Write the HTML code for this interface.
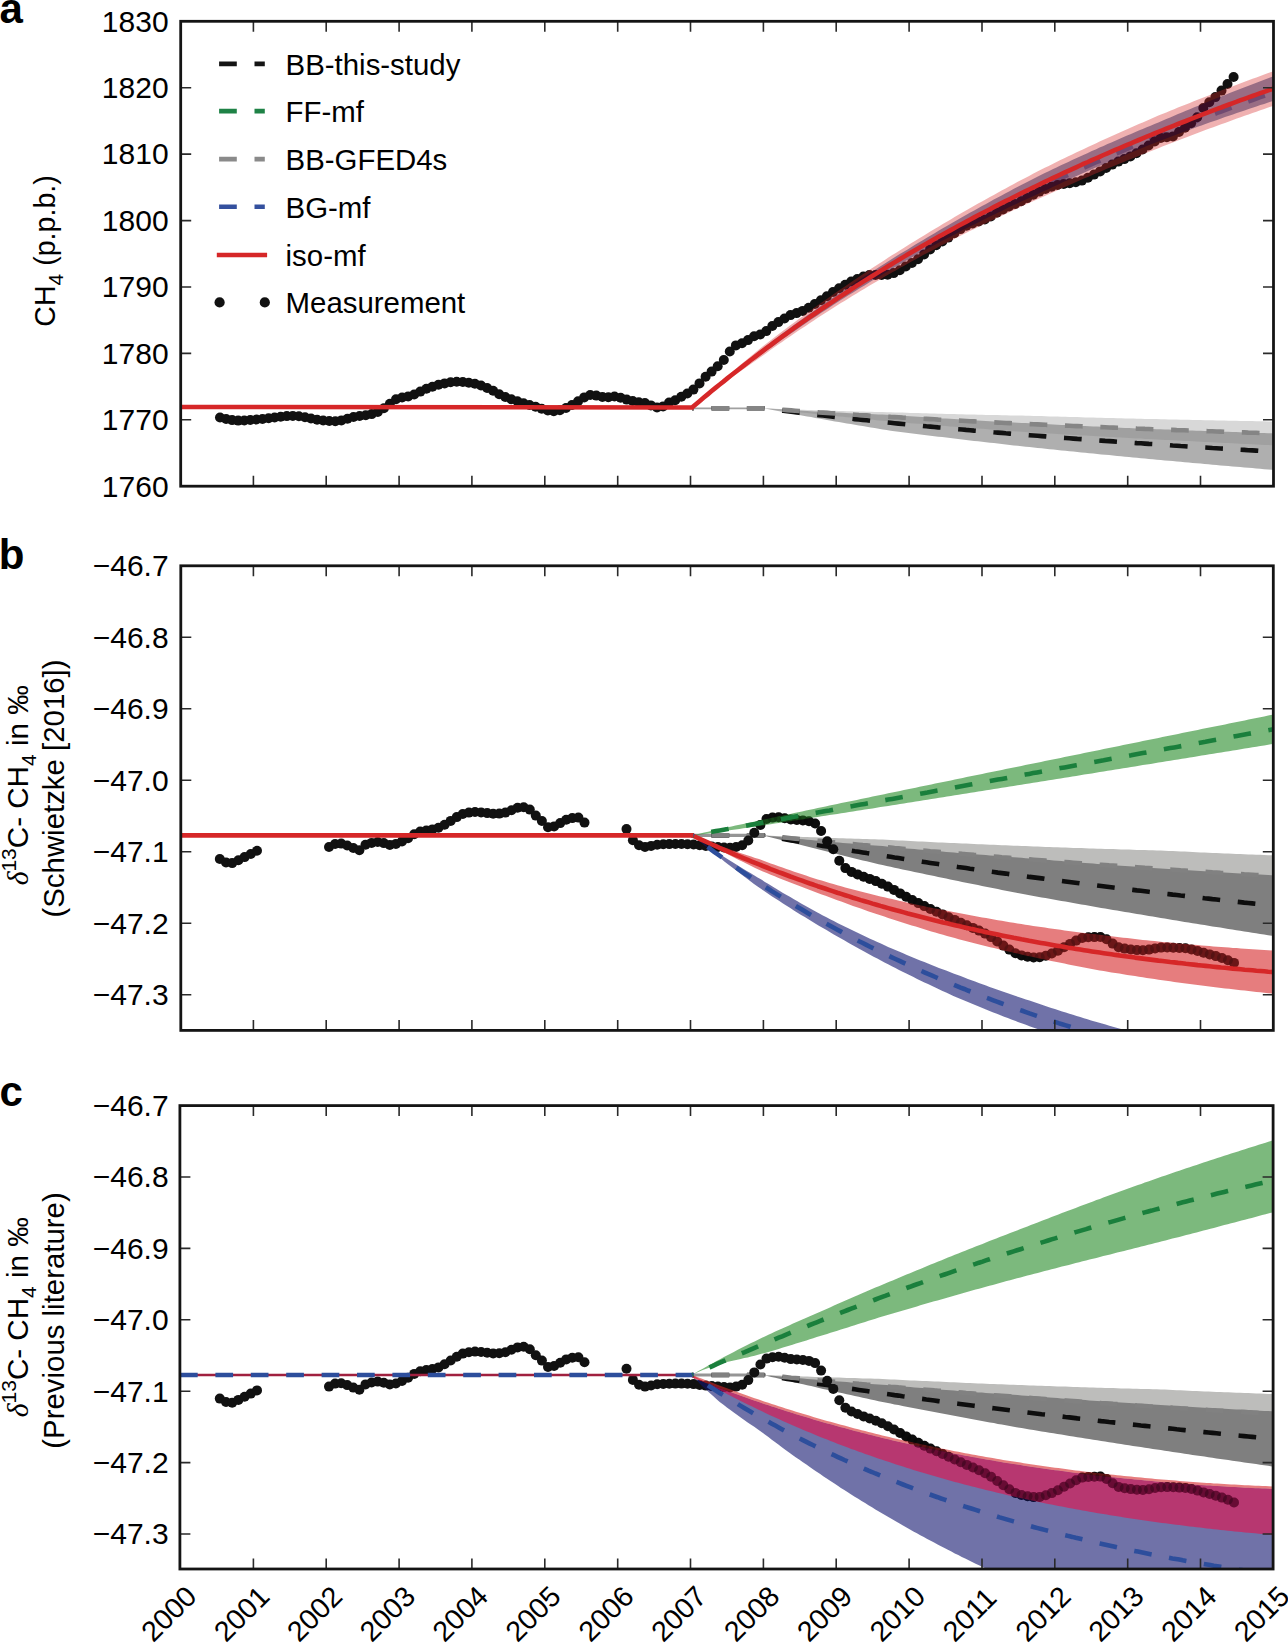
<!DOCTYPE html><html><head><meta charset="utf-8"><style>html,body{margin:0;padding:0;background:#fff;overflow:hidden}svg{display:block}text{font-family:"Liberation Sans",sans-serif;fill:#000}</style></head><body><svg width="1288" height="1647" viewBox="0 0 1288 1647"><defs><clipPath id="clipa"><rect x="180.7" y="21.3" width="1092.8" height="464.9"/></clipPath><clipPath id="clipb"><rect x="180.8" y="565.8" width="1092.5" height="464.6"/></clipPath><clipPath id="clipc"><rect x="179.9" y="1105.6" width="1093.2" height="463.4"/></clipPath></defs><g clip-path="url(#clipa)"><path d="M763.4,408.3 L767.4,408.6 L771.3,408.8 L775.3,409.1 L779.3,409.3 L783.3,409.6 L787.2,409.8 L791.2,410.1 L795.2,410.3 L799.2,410.5 L803.1,410.7 L807.1,411 L811.1,411.2 L815.1,411.4 L819,411.6 L823,411.8 L827,412 L831,412.2 L834.9,412.4 L838.9,412.6 L842.9,412.8 L846.8,413 L850.8,413.2 L854.8,413.4 L858.8,413.5 L862.7,413.7 L866.7,413.9 L870.7,414.1 L874.7,414.2 L878.6,414.4 L882.6,414.5 L886.6,414.7 L890.6,414.9 L894.5,415.2 L898.5,415.4 L902.5,415.7 L906.5,416 L910.4,416.3 L914.4,416.5 L918.4,416.8 L922.3,417.1 L926.3,417.3 L930.3,417.6 L934.3,417.8 L938.2,418.1 L942.2,418.4 L946.2,418.6 L950.2,418.8 L954.1,419.1 L958.1,419.3 L962.1,419.6 L966.1,419.8 L970,420 L974,420.3 L978,420.5 L982,420.7 L985.9,421 L989.9,421.2 L993.9,421.4 L997.8,421.6 L1001.8,421.8 L1005.8,422.1 L1009.8,422.3 L1013.7,422.5 L1017.7,422.7 L1021.7,422.9 L1025.7,423.1 L1029.6,423.3 L1033.6,423.5 L1037.6,423.7 L1041.6,423.9 L1045.5,424.1 L1049.5,424.3 L1053.5,424.5 L1057.4,424.7 L1061.4,424.9 L1065.4,425.1 L1069.4,425.3 L1073.3,425.5 L1077.3,425.7 L1081.3,425.9 L1085.3,426.1 L1089.2,426.3 L1093.2,426.4 L1097.2,426.6 L1101.2,426.8 L1105.1,427 L1109.1,427.2 L1113.1,427.3 L1117.1,427.5 L1121,427.7 L1125,427.9 L1129,428 L1132.9,428.2 L1136.9,428.4 L1140.9,428.5 L1144.9,428.7 L1148.8,428.9 L1152.8,429 L1156.8,429.2 L1160.8,429.3 L1164.7,429.5 L1168.7,429.6 L1172.7,429.8 L1176.7,430 L1180.6,430.1 L1184.6,430.3 L1188.6,430.4 L1192.6,430.6 L1196.5,430.7 L1200.5,430.8 L1204.5,431 L1208.4,431.1 L1212.4,431.3 L1216.4,431.4 L1220.4,431.6 L1224.3,431.7 L1228.3,431.8 L1232.3,432 L1236.3,432.1 L1240.2,432.2 L1244.2,432.4 L1248.2,432.5 L1252.2,432.6 L1256.1,432.8 L1260.1,432.9 L1264.1,433 L1268.1,433.2 L1272,433.3 L1276,433.5 L1276,470.1 L1272,469.8 L1268.1,469.5 L1264.1,469.2 L1260.1,468.8 L1256.1,468.5 L1252.2,468.1 L1248.2,467.8 L1244.2,467.5 L1240.2,467.1 L1236.3,466.8 L1232.3,466.4 L1228.3,466.1 L1224.3,465.7 L1220.4,465.4 L1216.4,465 L1212.4,464.7 L1208.4,464.3 L1204.5,464 L1200.5,463.6 L1196.5,463.3 L1192.6,462.9 L1188.6,462.6 L1184.6,462.2 L1180.6,461.8 L1176.7,461.5 L1172.7,461.1 L1168.7,460.8 L1164.7,460.4 L1160.8,460 L1156.8,459.7 L1152.8,459.3 L1148.8,458.9 L1144.9,458.5 L1140.9,458.2 L1136.9,457.8 L1132.9,457.4 L1129,457 L1125,456.7 L1121,456.3 L1117.1,455.9 L1113.1,455.5 L1109.1,455.1 L1105.1,454.7 L1101.2,454.4 L1097.2,454 L1093.2,453.6 L1089.2,453.2 L1085.3,452.8 L1081.3,452.4 L1077.3,452 L1073.3,451.6 L1069.4,451.2 L1065.4,450.8 L1061.4,450.4 L1057.4,450 L1053.5,449.6 L1049.5,449.2 L1045.5,448.8 L1041.6,448.3 L1037.6,447.9 L1033.6,447.5 L1029.6,447.1 L1025.7,446.7 L1021.7,446.2 L1017.7,445.8 L1013.7,445.4 L1009.8,444.9 L1005.8,444.5 L1001.8,444 L997.8,443.6 L993.9,443.1 L989.9,442.7 L985.9,442.2 L982,441.8 L978,441.3 L974,440.9 L970,440.4 L966.1,440 L962.1,439.5 L958.1,439 L954.1,438.6 L950.2,438.1 L946.2,437.6 L942.2,437.1 L938.2,436.7 L934.3,436.2 L930.3,435.7 L926.3,435.2 L922.3,434.7 L918.4,434.2 L914.4,433.7 L910.4,433.2 L906.5,432.7 L902.5,432.2 L898.5,431.7 L894.5,431.2 L890.6,430.7 L886.6,430.1 L882.6,429.4 L878.6,428.8 L874.7,428.1 L870.7,427.4 L866.7,426.8 L862.7,426.1 L858.8,425.4 L854.8,424.8 L850.8,424.1 L846.8,423.4 L842.9,422.7 L838.9,422 L834.9,421.4 L831,420.7 L827,420 L823,419.3 L819,418.6 L815.1,417.9 L811.1,417.1 L807.1,416.4 L803.1,415.7 L799.2,415 L795.2,414.3 L791.2,413.5 L787.2,412.8 L783.3,412.1 L779.3,411.3 L775.3,410.6 L771.3,409.8 L767.4,409.1 L763.4,408.3Z" fill="#000" fill-opacity="0.314"/><path d="M763.4,408.3 L767.4,408.5 L771.3,408.6 L775.3,408.8 L779.3,408.9 L783.3,409.1 L787.2,409.2 L791.2,409.4 L795.2,409.5 L799.2,409.7 L803.1,409.8 L807.1,409.9 L811.1,410.1 L815.1,410.2 L819,410.3 L823,410.5 L827,410.6 L831,410.7 L834.9,410.8 L838.9,410.9 L842.9,411.1 L846.8,411.2 L850.8,411.3 L854.8,411.4 L858.8,411.5 L862.7,411.6 L866.7,411.7 L870.7,411.8 L874.7,411.9 L878.6,412 L882.6,412.1 L886.6,412.2 L890.6,412.3 L894.5,412.4 L898.5,412.5 L902.5,412.6 L906.5,412.8 L910.4,412.9 L914.4,413 L918.4,413.1 L922.3,413.2 L926.3,413.3 L930.3,413.5 L934.3,413.6 L938.2,413.7 L942.2,413.8 L946.2,413.9 L950.2,414 L954.1,414.1 L958.1,414.2 L962.1,414.3 L966.1,414.4 L970,414.5 L974,414.6 L978,414.7 L982,414.8 L985.9,414.9 L989.9,414.9 L993.9,415 L997.8,415.1 L1001.8,415.2 L1005.8,415.3 L1009.8,415.4 L1013.7,415.5 L1017.7,415.5 L1021.7,415.6 L1025.7,415.7 L1029.6,415.8 L1033.6,415.9 L1037.6,416 L1041.6,416.1 L1045.5,416.2 L1049.5,416.4 L1053.5,416.5 L1057.4,416.6 L1061.4,416.7 L1065.4,416.8 L1069.4,416.9 L1073.3,417 L1077.3,417.1 L1081.3,417.3 L1085.3,417.4 L1089.2,417.5 L1093.2,417.6 L1097.2,417.7 L1101.2,417.8 L1105.1,417.9 L1109.1,418 L1113.1,418.1 L1117.1,418.2 L1121,418.3 L1125,418.4 L1129,418.5 L1132.9,418.6 L1136.9,418.7 L1140.9,418.8 L1144.9,418.9 L1148.8,419 L1152.8,419 L1156.8,419.1 L1160.8,419.2 L1164.7,419.3 L1168.7,419.4 L1172.7,419.5 L1176.7,419.6 L1180.6,419.7 L1184.6,419.8 L1188.6,419.8 L1192.6,419.9 L1196.5,420 L1200.5,420.1 L1204.5,420.2 L1208.4,420.3 L1212.4,420.3 L1216.4,420.4 L1220.4,420.5 L1224.3,420.6 L1228.3,420.7 L1232.3,420.7 L1236.3,420.8 L1240.2,420.9 L1244.2,421 L1248.2,421 L1252.2,421.1 L1256.1,421.2 L1260.1,421.3 L1264.1,421.3 L1268.1,421.4 L1272,421.5 L1276,421.6 L1276,445.4 L1272,445.3 L1268.1,445.1 L1264.1,444.9 L1260.1,444.7 L1256.1,444.5 L1252.2,444.3 L1248.2,444.1 L1244.2,443.9 L1240.2,443.7 L1236.3,443.5 L1232.3,443.3 L1228.3,443.1 L1224.3,442.9 L1220.4,442.7 L1216.4,442.5 L1212.4,442.3 L1208.4,442.1 L1204.5,441.9 L1200.5,441.7 L1196.5,441.5 L1192.6,441.3 L1188.6,441.1 L1184.6,440.9 L1180.6,440.7 L1176.7,440.5 L1172.7,440.3 L1168.7,440.1 L1164.7,439.9 L1160.8,439.7 L1156.8,439.5 L1152.8,439.3 L1148.8,439.1 L1144.9,438.9 L1140.9,438.6 L1136.9,438.4 L1132.9,438.2 L1129,438 L1125,437.8 L1121,437.6 L1117.1,437.4 L1113.1,437.1 L1109.1,436.9 L1105.1,436.7 L1101.2,436.5 L1097.2,436.3 L1093.2,436 L1089.2,435.8 L1085.3,435.6 L1081.3,435.4 L1077.3,435.1 L1073.3,434.9 L1069.4,434.7 L1065.4,434.5 L1061.4,434.2 L1057.4,434 L1053.5,433.8 L1049.5,433.5 L1045.5,433.3 L1041.6,433.1 L1037.6,432.8 L1033.6,432.6 L1029.6,432.3 L1025.7,432.1 L1021.7,431.8 L1017.7,431.5 L1013.7,431.2 L1009.8,430.9 L1005.8,430.6 L1001.8,430.3 L997.8,430 L993.9,429.7 L989.9,429.4 L985.9,429.1 L982,428.8 L978,428.5 L974,428.2 L970,427.9 L966.1,427.6 L962.1,427.3 L958.1,427 L954.1,426.7 L950.2,426.4 L946.2,426.1 L942.2,425.7 L938.2,425.4 L934.3,425.1 L930.3,424.8 L926.3,424.5 L922.3,424.1 L918.4,423.8 L914.4,423.5 L910.4,423.2 L906.5,422.8 L902.5,422.5 L898.5,422.2 L894.5,421.8 L890.6,421.5 L886.6,421.1 L882.6,420.7 L878.6,420.4 L874.7,420 L870.7,419.6 L866.7,419.2 L862.7,418.8 L858.8,418.4 L854.8,418 L850.8,417.6 L846.8,417.2 L842.9,416.8 L838.9,416.4 L834.9,416 L831,415.6 L827,415.2 L823,414.8 L819,414.4 L815.1,414 L811.1,413.5 L807.1,413.1 L803.1,412.7 L799.2,412.3 L795.2,411.8 L791.2,411.4 L787.2,411 L783.3,410.5 L779.3,410.1 L775.3,409.6 L771.3,409.2 L767.4,408.8 L763.4,408.3Z" fill="#808080" fill-opacity="0.31"/><path d="M692,408.3H764" stroke="#a0a0a0" stroke-width="1.8"/><path d="M692,408.3 L763.4,408.3 L767.4,408.8 L771.3,409.3 L775.3,409.8 L779.3,410.3 L783.3,410.8 L787.2,411.3 L791.2,411.8 L795.2,412.3 L799.2,412.8 L803.1,413.2 L807.1,413.7 L811.1,414.2 L815.1,414.6 L819,415.1 L823,415.5 L827,416 L831,416.4 L834.9,416.9 L838.9,417.3 L842.9,417.8 L846.8,418.2 L850.8,418.6 L854.8,419.1 L858.8,419.5 L862.7,419.9 L866.7,420.3 L870.7,420.8 L874.7,421.2 L878.6,421.6 L882.6,422 L886.6,422.4 L890.6,422.8 L894.5,423.2 L898.5,423.6 L902.5,424 L906.5,424.4 L910.4,424.7 L914.4,425.1 L918.4,425.5 L922.3,425.9 L926.3,426.3 L930.3,426.6 L934.3,427 L938.2,427.4 L942.2,427.7 L946.2,428.1 L950.2,428.5 L954.1,428.8 L958.1,429.2 L962.1,429.5 L966.1,429.9 L970,430.2 L974,430.6 L978,430.9 L982,431.3 L985.9,431.6 L989.9,431.9 L993.9,432.3 L997.8,432.6 L1001.8,432.9 L1005.8,433.3 L1009.8,433.6 L1013.7,433.9 L1017.7,434.2 L1021.7,434.6 L1025.7,434.9 L1029.6,435.2 L1033.6,435.5 L1037.6,435.8 L1041.6,436.1 L1045.5,436.4 L1049.5,436.8 L1053.5,437.1 L1057.4,437.4 L1061.4,437.7 L1065.4,438 L1069.4,438.3 L1073.3,438.6 L1077.3,438.9 L1081.3,439.1 L1085.3,439.4 L1089.2,439.7 L1093.2,440 L1097.2,440.3 L1101.2,440.6 L1105.1,440.9 L1109.1,441.1 L1113.1,441.4 L1117.1,441.7 L1121,442 L1125,442.3 L1129,442.5 L1132.9,442.8 L1136.9,443.1 L1140.9,443.3 L1144.9,443.6 L1148.8,443.9 L1152.8,444.1 L1156.8,444.4 L1160.8,444.7 L1164.7,444.9 L1168.7,445.2 L1172.7,445.5 L1176.7,445.7 L1180.6,446 L1184.6,446.2 L1188.6,446.5 L1192.6,446.7 L1196.5,447 L1200.5,447.2 L1204.5,447.5 L1208.4,447.7 L1212.4,448 L1216.4,448.2 L1220.4,448.5 L1224.3,448.7 L1228.3,449 L1232.3,449.2 L1236.3,449.4 L1240.2,449.7 L1244.2,449.9 L1248.2,450.2 L1252.2,450.4 L1256.1,450.6 L1260.1,450.9 L1264.1,451.1 L1268.1,451.3 L1272,451.6 L1276,451.8" stroke="#111" stroke-width="4.6" fill="none" stroke-dasharray="17.7 17.7" stroke-dashoffset="511.5" /><path d="M692,408.3 L763.4,408.3 L767.4,408.6 L771.3,408.9 L775.3,409.2 L779.3,409.5 L783.3,409.8 L787.2,410.1 L791.2,410.4 L795.2,410.7 L799.2,411 L803.1,411.2 L807.1,411.5 L811.1,411.8 L815.1,412.1 L819,412.4 L823,412.6 L827,412.9 L831,413.2 L834.9,413.4 L838.9,413.7 L842.9,413.9 L846.8,414.2 L850.8,414.4 L854.8,414.7 L858.8,415 L862.7,415.2 L866.7,415.4 L870.7,415.7 L874.7,415.9 L878.6,416.2 L882.6,416.4 L886.6,416.6 L890.6,416.9 L894.5,417.1 L898.5,417.3 L902.5,417.6 L906.5,417.8 L910.4,418 L914.4,418.2 L918.4,418.5 L922.3,418.7 L926.3,418.9 L930.3,419.1 L934.3,419.3 L938.2,419.6 L942.2,419.8 L946.2,420 L950.2,420.2 L954.1,420.4 L958.1,420.6 L962.1,420.8 L966.1,421 L970,421.2 L974,421.4 L978,421.6 L982,421.8 L985.9,422 L989.9,422.2 L993.9,422.4 L997.8,422.6 L1001.8,422.8 L1005.8,423 L1009.8,423.1 L1013.7,423.3 L1017.7,423.5 L1021.7,423.7 L1025.7,423.9 L1029.6,424.1 L1033.6,424.2 L1037.6,424.4 L1041.6,424.6 L1045.5,424.8 L1049.5,424.9 L1053.5,425.1 L1057.4,425.3 L1061.4,425.5 L1065.4,425.6 L1069.4,425.8 L1073.3,426 L1077.3,426.1 L1081.3,426.3 L1085.3,426.5 L1089.2,426.6 L1093.2,426.8 L1097.2,427 L1101.2,427.1 L1105.1,427.3 L1109.1,427.5 L1113.1,427.6 L1117.1,427.8 L1121,427.9 L1125,428.1 L1129,428.2 L1132.9,428.4 L1136.9,428.6 L1140.9,428.7 L1144.9,428.9 L1148.8,429 L1152.8,429.2 L1156.8,429.3 L1160.8,429.5 L1164.7,429.6 L1168.7,429.8 L1172.7,429.9 L1176.7,430.1 L1180.6,430.2 L1184.6,430.3 L1188.6,430.5 L1192.6,430.6 L1196.5,430.8 L1200.5,430.9 L1204.5,431.1 L1208.4,431.2 L1212.4,431.3 L1216.4,431.5 L1220.4,431.6 L1224.3,431.8 L1228.3,431.9 L1232.3,432 L1236.3,432.2 L1240.2,432.3 L1244.2,432.4 L1248.2,432.6 L1252.2,432.7 L1256.1,432.8 L1260.1,433 L1264.1,433.1 L1268.1,433.2 L1272,433.4 L1276,433.5" stroke="#858585" stroke-width="4.6" fill="none" stroke-dasharray="17.7 17.7" stroke-dashoffset="511.5" /><path d="M942.8,238.4 L946.8,236.2 L950.7,234.1 L954.6,231.9 L958.5,229.8 L962.4,227.7 L966.4,225.6 L970.3,223.5 L974.2,221.4 L978.1,219.3 L982,217.2 L986,215.2 L989.9,213.2 L993.8,211.1 L997.7,209.1 L1001.6,207.1 L1005.6,205.1 L1009.5,203.2 L1013.4,201.2 L1017.3,199.3 L1021.2,197.3 L1025.2,195.4 L1029.1,193.5 L1033,191.6 L1036.9,189.7 L1040.8,187.8 L1044.8,185.9 L1048.7,184 L1052.6,182.2 L1056.5,180.4 L1060.4,178.5 L1064.3,176.7 L1068.3,174.9 L1072.2,173.1 L1076.1,171.3 L1080,169.5 L1083.9,167.7 L1087.9,166 L1091.8,164.2 L1095.7,162.5 L1099.6,160.8 L1103.5,159 L1107.5,157.3 L1111.4,155.6 L1115.3,153.9 L1119.2,152.3 L1123.1,150.6 L1127.1,148.9 L1131,147.3 L1134.9,145.6 L1138.8,144 L1142.7,142.3 L1146.7,140.7 L1150.6,139.1 L1154.5,137.5 L1158.4,135.9 L1162.3,134.3 L1166.3,132.7 L1170.2,131.2 L1174.1,129.6 L1178,128 L1181.9,126.5 L1185.9,125 L1189.8,123.4 L1193.7,121.9 L1197.6,120.4 L1201.5,118.9 L1205.4,117.4 L1209.4,115.9 L1213.3,114.4 L1217.2,112.9 L1221.1,111.5 L1225,110 L1229,108.5 L1232.9,107.1 L1236.8,105.7 L1240.7,104.2 L1244.6,102.8 L1248.6,101.4 L1252.5,100 L1256.4,98.6 L1260.3,97.2 L1264.2,95.8 L1268.2,94.4 L1272.1,93 L1276,91.6" stroke="#3a4fa0" stroke-width="4.6" fill="none" stroke-dasharray="17.7 17.7" stroke-dashoffset="762.3" stroke-opacity="0.5"/><g fill="#111"><circle cx="220" cy="417.5" r="5"/><circle cx="226.1" cy="419" r="5"/><circle cx="232.1" cy="420.1" r="5"/><circle cx="238.2" cy="420.6" r="5"/><circle cx="244.3" cy="420.5" r="5"/><circle cx="250.3" cy="420" r="5"/><circle cx="256.4" cy="419.5" r="5"/><circle cx="262.5" cy="419" r="5"/><circle cx="268.6" cy="418.3" r="5"/><circle cx="274.6" cy="417.5" r="5"/><circle cx="280.7" cy="416.7" r="5"/><circle cx="286.8" cy="416.1" r="5"/><circle cx="292.8" cy="415.9" r="5"/><circle cx="298.9" cy="416.3" r="5"/><circle cx="305" cy="417.2" r="5"/><circle cx="311" cy="418.5" r="5"/><circle cx="317.1" cy="419.7" r="5"/><circle cx="323.2" cy="420.5" r="5"/><circle cx="329.3" cy="421" r="5"/><circle cx="335.3" cy="421.3" r="5"/><circle cx="341.4" cy="420.4" r="5"/><circle cx="347.5" cy="418.7" r="5"/><circle cx="353.5" cy="417" r="5"/><circle cx="359.6" cy="416" r="5"/><circle cx="365.7" cy="415.2" r="5"/><circle cx="371.7" cy="414.1" r="5"/><circle cx="377.8" cy="412" r="5"/><circle cx="383.9" cy="408.3" r="5"/><circle cx="389.9" cy="403.7" r="5"/><circle cx="396" cy="399.3" r="5"/><circle cx="402.1" cy="397.5" r="5"/><circle cx="408.2" cy="396.4" r="5"/><circle cx="414.2" cy="394.5" r="5"/><circle cx="420.3" cy="391.6" r="5"/><circle cx="426.4" cy="388.8" r="5"/><circle cx="432.4" cy="386.7" r="5"/><circle cx="438.5" cy="384.8" r="5"/><circle cx="444.6" cy="383.4" r="5"/><circle cx="450.6" cy="382.2" r="5"/><circle cx="456.7" cy="381.7" r="5"/><circle cx="462.8" cy="382" r="5"/><circle cx="468.8" cy="382.7" r="5"/><circle cx="474.9" cy="383.7" r="5"/><circle cx="481" cy="385.5" r="5"/><circle cx="487.1" cy="388" r="5"/><circle cx="493.1" cy="390.8" r="5"/><circle cx="499.2" cy="394.2" r="5"/><circle cx="505.3" cy="397" r="5"/><circle cx="511.3" cy="399.2" r="5"/><circle cx="517.4" cy="401.2" r="5"/><circle cx="523.5" cy="403.2" r="5"/><circle cx="529.5" cy="405" r="5"/><circle cx="535.6" cy="406.8" r="5"/><circle cx="541.7" cy="408.7" r="5"/><circle cx="547.8" cy="410.4" r="5"/><circle cx="553.8" cy="411.2" r="5"/><circle cx="559.9" cy="410.2" r="5"/><circle cx="566" cy="408" r="5"/><circle cx="572" cy="405" r="5"/><circle cx="578.1" cy="401.3" r="5"/><circle cx="584.2" cy="397.4" r="5"/><circle cx="590.2" cy="395" r="5"/><circle cx="596.3" cy="395.6" r="5"/><circle cx="602.4" cy="396.9" r="5"/><circle cx="608.4" cy="397.2" r="5"/><circle cx="614.5" cy="396.5" r="5"/><circle cx="620.6" cy="397.7" r="5"/><circle cx="626.7" cy="399.6" r="5"/><circle cx="632.7" cy="401" r="5"/><circle cx="638.8" cy="402.2" r="5"/><circle cx="644.9" cy="403.1" r="5"/><circle cx="650.9" cy="405.4" r="5"/><circle cx="657" cy="407.4" r="5"/><circle cx="663.1" cy="406.4" r="5"/><circle cx="669.1" cy="402.5" r="5"/><circle cx="675.2" cy="400.2" r="5"/><circle cx="681.3" cy="396.7" r="5"/><circle cx="687.3" cy="393.5" r="5"/><circle cx="693.4" cy="389.6" r="5"/><circle cx="699.5" cy="383.4" r="5"/><circle cx="705.6" cy="376.8" r="5"/><circle cx="711.6" cy="371.6" r="5"/><circle cx="717.7" cy="366.2" r="5"/><circle cx="723.8" cy="360" r="5"/><circle cx="729.8" cy="351.5" r="5"/><circle cx="735.9" cy="345.4" r="5"/><circle cx="742" cy="343.3" r="5"/><circle cx="748" cy="340.1" r="5"/><circle cx="754.1" cy="336.2" r="5"/><circle cx="760.2" cy="334.5" r="5"/><circle cx="766.3" cy="331.1" r="5"/><circle cx="772.3" cy="326" r="5"/><circle cx="778.4" cy="322.1" r="5"/><circle cx="784.5" cy="318.5" r="5"/><circle cx="790.5" cy="315.1" r="5"/><circle cx="796.6" cy="313.1" r="5"/><circle cx="802.7" cy="310.9" r="5"/><circle cx="808.7" cy="307.8" r="5"/><circle cx="814.8" cy="304" r="5"/><circle cx="820.9" cy="300.2" r="5"/><circle cx="826.9" cy="296.2" r="5"/><circle cx="833" cy="292" r="5"/><circle cx="839.1" cy="288.2" r="5"/><circle cx="845.2" cy="284.7" r="5"/><circle cx="851.2" cy="281.6" r="5"/><circle cx="857.3" cy="279" r="5"/><circle cx="863.4" cy="276.5" r="5"/><circle cx="869.4" cy="275" r="5"/><circle cx="875.5" cy="275" r="5"/><circle cx="881.6" cy="275" r="5"/><circle cx="887.6" cy="274.7" r="5"/><circle cx="893.7" cy="273.1" r="5"/><circle cx="899.8" cy="270.2" r="5"/><circle cx="905.8" cy="266.4" r="5"/><circle cx="911.9" cy="263" r="5"/><circle cx="918" cy="259.2" r="5"/><circle cx="924.1" cy="254.4" r="5"/><circle cx="930.1" cy="249.4" r="5"/><circle cx="936.2" cy="245.2" r="5"/><circle cx="942.3" cy="241.4" r="5"/><circle cx="948.3" cy="237.6" r="5"/><circle cx="954.4" cy="233.3" r="5"/><circle cx="960.5" cy="229.1" r="5"/><circle cx="966.5" cy="225.7" r="5"/><circle cx="972.6" cy="223.4" r="5"/><circle cx="978.7" cy="221.5" r="5"/><circle cx="984.8" cy="219.4" r="5"/><circle cx="990.8" cy="216.4" r="5"/><circle cx="996.9" cy="212.8" r="5"/><circle cx="1003" cy="209.4" r="5"/><circle cx="1009" cy="206.5" r="5"/><circle cx="1015.1" cy="203.9" r="5"/><circle cx="1021.2" cy="201.2" r="5"/><circle cx="1027.2" cy="198.1" r="5"/><circle cx="1033.3" cy="194.7" r="5"/><circle cx="1039.4" cy="191.6" r="5"/><circle cx="1045.4" cy="189" r="5"/><circle cx="1051.5" cy="186.8" r="5"/><circle cx="1057.6" cy="185" r="5"/><circle cx="1063.7" cy="184" r="5"/><circle cx="1069.7" cy="183.2" r="5"/><circle cx="1075.8" cy="182.3" r="5"/><circle cx="1081.9" cy="180.6" r="5"/><circle cx="1087.9" cy="177.8" r="5"/><circle cx="1094" cy="174.6" r="5"/><circle cx="1100.1" cy="171.4" r="5"/><circle cx="1106.1" cy="168" r="5"/><circle cx="1112.2" cy="164.6" r="5"/><circle cx="1118.3" cy="161.6" r="5"/><circle cx="1124.3" cy="159.1" r="5"/><circle cx="1130.4" cy="156.4" r="5"/><circle cx="1136.5" cy="153.2" r="5"/><circle cx="1142.6" cy="149.5" r="5"/><circle cx="1148.6" cy="145.5" r="5"/><circle cx="1154.7" cy="141.4" r="5"/><circle cx="1160.8" cy="138" r="5"/><circle cx="1166.8" cy="137.3" r="5"/><circle cx="1172.9" cy="136.4" r="5"/><circle cx="1179" cy="132" r="5"/><circle cx="1185" cy="127.7" r="5"/><circle cx="1191.1" cy="123.3" r="5"/><circle cx="1197.2" cy="117.2" r="5"/><circle cx="1203.3" cy="108" r="5"/><circle cx="1209.3" cy="102.3" r="5"/><circle cx="1215.4" cy="97.1" r="5"/><circle cx="1221.5" cy="90.6" r="5"/><circle cx="1227.5" cy="84" r="5"/><circle cx="1233.6" cy="77" r="5"/></g><path d="M692,407.5 L695.9,403.9 L699.8,400.4 L703.8,396.8 L707.7,393.3 L711.6,389.8 L715.5,386.4 L719.4,382.9 L723.4,379.5 L727.3,376.1 L731.2,372.7 L735.1,369.4 L739,366 L743,362.7 L746.9,359.4 L750.8,356.2 L754.7,352.9 L758.6,349.7 L762.6,346.6 L766.5,343.5 L770.4,340.5 L774.3,337.4 L778.2,334.5 L782.1,331.5 L786.1,328.5 L790,325.6 L793.9,322.7 L797.8,319.8 L801.7,316.9 L805.7,314 L809.6,311.2 L813.5,308.3 L817.4,305.5 L821.3,302.7 L825.3,300 L829.2,297.2 L833.1,294.5 L837,291.7 L840.9,289 L844.9,286.4 L848.8,283.7 L852.7,281 L856.6,278.4 L860.5,275.8 L864.5,273.2 L868.4,270.6 L872.3,268 L876.2,265.4 L880.1,262.9 L884.1,260.4 L888,257.8 L891.9,255.3 L895.8,252.9 L899.7,250.4 L903.7,247.9 L907.6,245.5 L911.5,243.1 L915.4,240.7 L919.3,238.3 L923.2,235.9 L927.2,233.5 L931.1,231.1 L935,228.7 L938.9,226.4 L942.8,224.1 L946.8,221.7 L950.7,219.4 L954.6,217.1 L958.5,214.8 L962.4,212.6 L966.4,210.3 L970.3,208.1 L974.2,205.8 L978.1,203.6 L982,201.4 L986,199.2 L989.9,197 L993.8,194.9 L997.7,192.7 L1001.6,190.6 L1005.6,188.4 L1009.5,186.3 L1013.4,184.2 L1017.3,182.1 L1021.2,180 L1025.2,177.9 L1029.1,175.9 L1033,173.8 L1036.9,171.8 L1040.8,169.8 L1044.8,167.8 L1048.7,165.9 L1052.6,164 L1056.5,162 L1060.4,160.1 L1064.3,158.2 L1068.3,156.3 L1072.2,154.5 L1076.1,152.6 L1080,150.8 L1083.9,148.9 L1087.9,147.1 L1091.8,145.2 L1095.7,143.4 L1099.6,141.6 L1103.5,139.8 L1107.5,138 L1111.4,136.3 L1115.3,134.5 L1119.2,132.7 L1123.1,131 L1127.1,129.2 L1131,127.5 L1134.9,125.8 L1138.8,124.1 L1142.7,122.4 L1146.7,120.7 L1150.6,119 L1154.5,117.3 L1158.4,115.6 L1162.3,114 L1166.3,112.4 L1170.2,110.8 L1174.1,109.2 L1178,107.6 L1181.9,106 L1185.9,104.4 L1189.8,102.9 L1193.7,101.3 L1197.6,99.8 L1201.5,98.2 L1205.4,96.7 L1209.4,95.2 L1213.3,93.6 L1217.2,92.1 L1221.1,90.6 L1225,89.1 L1229,87.6 L1232.9,86.2 L1236.8,84.7 L1240.7,83.2 L1244.6,81.7 L1248.6,80.3 L1252.5,78.8 L1256.4,77.4 L1260.3,76 L1264.2,74.5 L1268.2,73.1 L1272.1,71.7 L1276,70.3 L1276,104.9 L1272.1,106.3 L1268.2,107.6 L1264.2,109 L1260.3,110.3 L1256.4,111.7 L1252.5,113.1 L1248.6,114.5 L1244.6,115.8 L1240.7,117.2 L1236.8,118.6 L1232.9,120 L1229,121.5 L1225,122.9 L1221.1,124.3 L1217.2,125.7 L1213.3,127.2 L1209.4,128.6 L1205.4,130.1 L1201.5,131.6 L1197.6,133 L1193.7,134.5 L1189.8,136 L1185.9,137.5 L1181.9,139 L1178,140.5 L1174.1,142 L1170.2,143.6 L1166.3,145.1 L1162.3,146.6 L1158.4,148.2 L1154.5,149.7 L1150.6,151.2 L1146.7,152.8 L1142.7,154.3 L1138.8,155.9 L1134.9,157.4 L1131,159 L1127.1,160.6 L1123.1,162.2 L1119.2,163.8 L1115.3,165.4 L1111.4,167 L1107.5,168.6 L1103.5,170.3 L1099.6,171.9 L1095.7,173.6 L1091.8,175.2 L1087.9,176.9 L1083.9,178.6 L1080,180.3 L1076.1,182 L1072.2,183.7 L1068.3,185.4 L1064.3,187.2 L1060.4,188.9 L1056.5,190.7 L1052.6,192.4 L1048.7,194.2 L1044.8,196 L1040.8,197.8 L1036.9,199.6 L1033,201.3 L1029.1,203.1 L1025.2,204.8 L1021.2,206.6 L1017.3,208.4 L1013.4,210.2 L1009.5,212 L1005.6,213.9 L1001.6,215.7 L997.7,217.5 L993.8,219.4 L989.9,221.3 L986,223.2 L982,225.1 L978.1,227 L974.2,228.9 L970.3,230.8 L966.4,232.8 L962.4,234.8 L958.5,236.7 L954.6,238.7 L950.7,240.7 L946.8,242.7 L942.8,244.8 L938.9,246.8 L935,248.9 L931.1,250.9 L927.2,253 L923.2,255.1 L919.3,257.2 L915.4,259.4 L911.5,261.6 L907.6,263.7 L903.7,265.9 L899.7,268.1 L895.8,270.4 L891.9,272.6 L888,274.8 L884.1,277.1 L880.1,279.4 L876.2,281.7 L872.3,284 L868.4,286.3 L864.5,288.7 L860.5,291 L856.6,293.4 L852.7,295.8 L848.8,298.2 L844.9,300.7 L840.9,303.1 L837,305.6 L833.1,308 L829.2,310.5 L825.3,313 L821.3,315.6 L817.4,318.1 L813.5,320.7 L809.6,323.3 L805.7,325.9 L801.7,328.5 L797.8,331.1 L793.9,333.8 L790,336.5 L786.1,339.1 L782.1,341.9 L778.2,344.6 L774.3,347.3 L770.4,350.1 L766.5,352.9 L762.6,355.7 L758.6,358.5 L754.7,361.2 L750.8,363.9 L746.9,366.7 L743,369.5 L739,372.3 L735.1,375.1 L731.2,377.9 L727.3,380.8 L723.4,383.7 L719.4,386.6 L715.5,389.5 L711.6,392.4 L707.7,395.4 L703.8,398.4 L699.8,401.4 L695.9,404.4 L692,407.5Z" fill="#d62728" fill-opacity="0.36"/><path d="M692,407.5 L695.9,404 L699.8,400.6 L703.8,397.2 L707.7,393.8 L711.6,390.4 L715.5,387.1 L719.4,383.7 L723.4,380.4 L727.3,377.1 L731.2,373.9 L735.1,370.6 L739,367.4 L743,364.2 L746.9,361 L750.8,357.9 L754.7,354.8 L758.6,351.6 L762.6,348.6 L766.5,345.6 L770.4,342.6 L774.3,339.6 L778.2,336.7 L782.1,333.8 L786.1,330.8 L790,328 L793.9,325.1 L797.8,322.2 L801.7,319.4 L805.7,316.6 L809.6,313.8 L813.5,311 L817.4,308.2 L821.3,305.5 L825.3,302.8 L829.2,300.1 L833.1,297.4 L837,294.7 L840.9,292.1 L844.9,289.4 L848.8,286.8 L852.7,284.2 L856.6,281.6 L860.5,279 L864.5,276.5 L868.4,273.9 L872.3,271.4 L876.2,268.9 L880.1,266.4 L884.1,263.9 L888,261.4 L891.9,259 L895.8,256.6 L899.7,254.1 L903.7,251.7 L907.6,249.4 L911.5,247 L915.4,244.6 L919.3,242.3 L923.2,239.9 L927.2,237.6 L931.1,235.2 L935,232.9 L938.9,230.6 L942.8,228.3 L946.8,226 L950.7,223.7 L954.6,221.5 L958.5,219.2 L962.4,217 L966.4,214.8 L970.3,212.6 L974.2,210.4 L978.1,208.2 L982,206 L986,203.9 L989.9,201.7 L993.8,199.6 L997.7,197.5 L1001.6,195.4 L1005.6,193.3 L1009.5,191.2 L1013.4,189.1 L1017.3,187.1 L1021.2,185 L1025.2,183 L1029.1,181 L1033,179 L1036.9,177 L1040.8,175 L1044.8,173.1 L1048.7,171.2 L1052.6,169.3 L1056.5,167.5 L1060.4,165.6 L1064.3,163.8 L1068.3,161.9 L1072.2,160.1 L1076.1,158.3 L1080,156.5 L1083.9,154.7 L1087.9,152.9 L1091.8,151.1 L1095.7,149.4 L1099.6,147.6 L1103.5,145.9 L1107.5,144.1 L1111.4,142.4 L1115.3,140.7 L1119.2,139 L1123.1,137.3 L1127.1,135.6 L1131,133.9 L1134.9,132.3 L1138.8,130.6 L1142.7,128.9 L1146.7,127.3 L1150.6,125.7 L1154.5,124 L1158.4,122.4 L1162.3,120.8 L1166.3,119.1 L1170.2,117.4 L1174.1,115.8 L1178,114.1 L1181.9,112.5 L1185.9,110.8 L1189.8,109.2 L1193.7,107.6 L1197.6,106 L1201.5,104.4 L1205.4,102.8 L1209.4,101.2 L1213.3,99.6 L1217.2,98 L1221.1,96.4 L1225,94.9 L1229,93.3 L1232.9,91.8 L1236.8,90.3 L1240.7,88.7 L1244.6,87.2 L1248.6,85.7 L1252.5,84.2 L1256.4,82.7 L1260.3,81.2 L1264.2,79.7 L1268.2,78.2 L1272.1,76.7 L1276,75.3 L1276,99.9 L1272.1,101.3 L1268.2,102.6 L1264.2,103.9 L1260.3,105.1 L1256.4,106.4 L1252.5,107.8 L1248.6,109.1 L1244.6,110.4 L1240.7,111.7 L1236.8,113.1 L1232.9,114.4 L1229,115.8 L1225,117.1 L1221.1,118.5 L1217.2,119.9 L1213.3,121.2 L1209.4,122.6 L1205.4,124 L1201.5,125.4 L1197.6,126.8 L1193.7,128.2 L1189.8,129.7 L1185.9,131.1 L1181.9,132.5 L1178,134 L1174.1,135.5 L1170.2,136.9 L1166.3,138.4 L1162.3,139.9 L1158.4,141.4 L1154.5,143 L1150.6,144.5 L1146.7,146.1 L1142.7,147.7 L1138.8,149.3 L1134.9,151 L1131,152.6 L1127.1,154.2 L1123.1,155.9 L1119.2,157.5 L1115.3,159.2 L1111.4,160.8 L1107.5,162.5 L1103.5,164.2 L1099.6,165.9 L1095.7,167.6 L1091.8,169.3 L1087.9,171.1 L1083.9,172.8 L1080,174.6 L1076.1,176.3 L1072.2,178.1 L1068.3,179.9 L1064.3,181.6 L1060.4,183.4 L1056.5,185.2 L1052.6,187.1 L1048.7,188.9 L1044.8,190.7 L1040.8,192.6 L1036.9,194.4 L1033,196.2 L1029.1,198 L1025.2,199.8 L1021.2,201.6 L1017.3,203.4 L1013.4,205.3 L1009.5,207.1 L1005.6,209 L1001.6,210.9 L997.7,212.8 L993.8,214.7 L989.9,216.6 L986,218.5 L982,220.5 L978.1,222.4 L974.2,224.4 L970.3,226.3 L966.4,228.3 L962.4,230.3 L958.5,232.4 L954.6,234.4 L950.7,236.4 L946.8,238.5 L942.8,240.5 L938.9,242.6 L935,244.7 L931.1,246.8 L927.2,249 L923.2,251.1 L919.3,253.2 L915.4,255.4 L911.5,257.7 L907.6,259.9 L903.7,262.1 L899.7,264.4 L895.8,266.7 L891.9,268.9 L888,271.2 L884.1,273.6 L880.1,275.9 L876.2,278.2 L872.3,280.6 L868.4,283 L864.5,285.4 L860.5,287.8 L856.6,290.2 L852.7,292.7 L848.8,295.1 L844.9,297.6 L840.9,300.1 L837,302.6 L833.1,305.1 L829.2,307.7 L825.3,310.2 L821.3,312.8 L817.4,315.4 L813.5,318 L809.6,320.6 L805.7,323.3 L801.7,326 L797.8,328.7 L793.9,331.4 L790,334.1 L786.1,336.8 L782.1,339.6 L778.2,342.4 L774.3,345.2 L770.4,348 L766.5,350.8 L762.6,353.7 L758.6,356.5 L754.7,359.4 L750.8,362.2 L746.9,365.1 L743,368 L739,370.9 L735.1,373.8 L731.2,376.8 L727.3,379.7 L723.4,382.7 L719.4,385.8 L715.5,388.8 L711.6,391.9 L707.7,394.9 L703.8,398 L699.8,401.2 L695.9,404.3 L692,407.5Z" fill="#0a003c" fill-opacity="0.38"/><path d="M180.5,407 L692,407.5 L695.9,404.2 L699.8,400.9 L703.8,397.6 L707.7,394.4 L711.6,391.1 L715.5,387.9 L719.4,384.7 L723.4,381.6 L727.3,378.4 L731.2,375.3 L735.1,372.2 L739,369.2 L743,366.1 L746.9,363.1 L750.8,360 L754.7,357.1 L758.6,354.1 L762.6,351.1 L766.5,348.2 L770.4,345.3 L774.3,342.4 L778.2,339.5 L782.1,336.7 L786.1,333.8 L790,331 L793.9,328.2 L797.8,325.4 L801.7,322.7 L805.7,319.9 L809.6,317.2 L813.5,314.5 L817.4,311.8 L821.3,309.2 L825.3,306.5 L829.2,303.9 L833.1,301.3 L837,298.7 L840.9,296.1 L844.9,293.5 L848.8,291 L852.7,288.4 L856.6,285.9 L860.5,283.4 L864.5,280.9 L868.4,278.5 L872.3,276 L876.2,273.6 L880.1,271.1 L884.1,268.7 L888,266.3 L891.9,264 L895.8,261.6 L899.7,259.3 L903.7,256.9 L907.6,254.6 L911.5,252.3 L915.4,250 L919.3,247.8 L923.2,245.5 L927.2,243.3 L931.1,241 L935,238.8 L938.9,236.6 L942.8,234.4 L946.8,232.2 L950.7,230.1 L954.6,227.9 L958.5,225.8 L962.4,223.7 L966.4,221.6 L970.3,219.5 L974.2,217.4 L978.1,215.3 L982,213.2 L986,211.2 L989.9,209.2 L993.8,207.1 L997.7,205.1 L1001.6,203.1 L1005.6,201.1 L1009.5,199.2 L1013.4,197.2 L1017.3,195.3 L1021.2,193.3 L1025.2,191.4 L1029.1,189.5 L1033,187.6 L1036.9,185.7 L1040.8,183.8 L1044.8,181.9 L1048.7,180 L1052.6,178.2 L1056.5,176.4 L1060.4,174.5 L1064.3,172.7 L1068.3,170.9 L1072.2,169.1 L1076.1,167.3 L1080,165.5 L1083.9,163.7 L1087.9,162 L1091.8,160.2 L1095.7,158.5 L1099.6,156.8 L1103.5,155 L1107.5,153.3 L1111.4,151.6 L1115.3,149.9 L1119.2,148.3 L1123.1,146.6 L1127.1,144.9 L1131,143.3 L1134.9,141.6 L1138.8,140 L1142.7,138.3 L1146.7,136.7 L1150.6,135.1 L1154.5,133.5 L1158.4,131.9 L1162.3,130.3 L1166.3,128.7 L1170.2,127.2 L1174.1,125.6 L1178,124 L1181.9,122.5 L1185.9,121 L1189.8,119.4 L1193.7,117.9 L1197.6,116.4 L1201.5,114.9 L1205.4,113.4 L1209.4,111.9 L1213.3,110.4 L1217.2,108.9 L1221.1,107.5 L1225,106 L1229,104.5 L1232.9,103.1 L1236.8,101.7 L1240.7,100.2 L1244.6,98.8 L1248.6,97.4 L1252.5,96 L1256.4,94.6 L1260.3,93.2 L1264.2,91.8 L1268.2,90.4 L1272.1,89 L1276,87.6" stroke="#d62728" stroke-width="4.6" fill="none" stroke-linejoin="round"/></g><path d="M219.1,63.9H236.8M254.5,63.9H264.8" stroke="#141414" stroke-width="4.6"/><text x="285.6" y="74.8" font-size="29.4">BB-this-study</text><path d="M219.1,111.1H236.8M254.5,111.1H264.8" stroke="#1e8246" stroke-width="4.6"/><text x="285.6" y="122" font-size="29.4">FF-mf</text><path d="M219.1,159.1H236.8M254.5,159.1H264.8" stroke="#8a8a8a" stroke-width="4.6"/><text x="285.6" y="170" font-size="29.4">BB-GFED4s</text><path d="M219.1,206.7H236.8M254.5,206.7H264.8" stroke="#34509e" stroke-width="4.6"/><text x="285.6" y="217.6" font-size="29.4">BG-mf</text><path d="M216.8,255H267.1" stroke="#d62728" stroke-width="4.6"/><text x="285.6" y="265.9" font-size="29.4">iso-mf</text><circle cx="219.6" cy="302.4" r="5.1" fill="#111"/><circle cx="264.8" cy="302.4" r="5.1" fill="#111"/><text x="285.6" y="313.3" font-size="29.4">Measurement</text><path d="M253.4,486.2v-10.5 M253.4,21.3v10.5 M326.2,486.2v-10.5 M326.2,21.3v10.5 M399.1,486.2v-10.5 M399.1,21.3v10.5 M471.9,486.2v-10.5 M471.9,21.3v10.5 M544.8,486.2v-10.5 M544.8,21.3v10.5 M617.7,486.2v-10.5 M617.7,21.3v10.5 M690.5,486.2v-10.5 M690.5,21.3v10.5 M763.4,486.2v-10.5 M763.4,21.3v10.5 M836.2,486.2v-10.5 M836.2,21.3v10.5 M909.1,486.2v-10.5 M909.1,21.3v10.5 M982,486.2v-10.5 M982,21.3v10.5 M1054.8,486.2v-10.5 M1054.8,21.3v10.5 M1127.7,486.2v-10.5 M1127.7,21.3v10.5 M1200.5,486.2v-10.5 M1200.5,21.3v10.5 M180.7,87.7h10.5 M1273.5,87.7h-10.5 M180.7,154.1h10.5 M1273.5,154.1h-10.5 M180.7,220.6h10.5 M1273.5,220.6h-10.5 M180.7,287h10.5 M1273.5,287h-10.5 M180.7,353.4h10.5 M1273.5,353.4h-10.5 M180.7,419.8h10.5 M1273.5,419.8h-10.5" stroke="#2a2a2a" stroke-width="1.6" fill="none"/><rect x="180.7" y="21.3" width="1092.8" height="464.9" fill="none" stroke="#141414" stroke-width="2.8"/><text x="168.6" y="31.6" font-size="30" text-anchor="end">1830</text><text x="168.6" y="98" font-size="30" text-anchor="end">1820</text><text x="168.6" y="164.4" font-size="30" text-anchor="end">1810</text><text x="168.6" y="230.9" font-size="30" text-anchor="end">1800</text><text x="168.6" y="297.3" font-size="30" text-anchor="end">1790</text><text x="168.6" y="363.7" font-size="30" text-anchor="end">1780</text><text x="168.6" y="430.1" font-size="30" text-anchor="end">1770</text><text x="168.6" y="496.5" font-size="30" text-anchor="end">1760</text><g clip-path="url(#clipb)"><path d="M763.4,835.4 L767.4,835.6 L771.3,835.7 L775.3,835.9 L779.3,836 L783.3,836.2 L787.2,836.3 L791.2,836.5 L795.2,836.6 L799.2,836.8 L803.1,836.9 L807.1,837.1 L811.1,837.2 L815.1,837.3 L819,837.5 L823,837.6 L827,837.8 L831,837.9 L834.9,838 L838.9,838.2 L842.9,838.3 L846.8,838.4 L850.8,838.6 L854.8,838.7 L858.8,838.8 L862.7,838.9 L866.7,839.1 L870.7,839.2 L874.7,839.3 L878.6,839.4 L882.6,839.6 L886.6,839.8 L890.6,840 L894.5,840.2 L898.5,840.4 L902.5,840.6 L906.5,840.8 L910.4,841 L914.4,841.2 L918.4,841.4 L922.3,841.6 L926.3,841.8 L930.3,842 L934.3,842.2 L938.2,842.4 L942.2,842.5 L946.2,842.7 L950.2,842.9 L954.1,843.1 L958.1,843.3 L962.1,843.5 L966.1,843.6 L970,843.8 L974,844 L978,844.2 L982,844.3 L985.9,844.5 L989.9,844.7 L993.9,844.8 L997.8,845 L1001.8,845.2 L1005.8,845.3 L1009.8,845.5 L1013.7,845.7 L1017.7,845.8 L1021.7,846 L1025.7,846.1 L1029.6,846.3 L1033.6,846.4 L1037.6,846.6 L1041.6,846.7 L1045.5,846.9 L1049.5,847 L1053.5,847.2 L1057.4,847.3 L1061.4,847.5 L1065.4,847.6 L1069.4,847.7 L1073.3,847.9 L1077.3,848 L1081.3,848.1 L1085.3,848.3 L1089.2,848.4 L1093.2,848.5 L1097.2,848.7 L1101.2,848.8 L1105.1,848.9 L1109.1,849 L1113.1,849.1 L1117.1,849.3 L1121,849.4 L1125,849.5 L1129,849.6 L1132.9,849.7 L1136.9,849.9 L1140.9,850 L1144.9,850.1 L1148.8,850.2 L1152.8,850.3 L1156.8,850.4 L1160.8,850.5 L1164.7,850.7 L1168.7,850.9 L1172.7,851.1 L1176.7,851.3 L1180.6,851.5 L1184.6,851.6 L1188.6,851.8 L1192.6,852 L1196.5,852.2 L1200.5,852.4 L1204.5,852.5 L1208.4,852.7 L1212.4,852.9 L1216.4,853 L1220.4,853.2 L1224.3,853.4 L1228.3,853.6 L1232.3,853.7 L1236.3,853.9 L1240.2,854 L1244.2,854.2 L1248.2,854.4 L1252.2,854.5 L1256.1,854.7 L1260.1,854.8 L1264.1,855 L1268.1,855.2 L1272,855.3 L1276,855.5 L1276,896.7 L1272,896.5 L1268.1,896.2 L1264.1,895.9 L1260.1,895.5 L1256.1,895.2 L1252.2,894.9 L1248.2,894.6 L1244.2,894.3 L1240.2,894 L1236.3,893.7 L1232.3,893.3 L1228.3,893 L1224.3,892.7 L1220.4,892.4 L1216.4,892 L1212.4,891.7 L1208.4,891.4 L1204.5,891.1 L1200.5,890.7 L1196.5,890.4 L1192.6,890.1 L1188.6,889.7 L1184.6,889.4 L1180.6,889.1 L1176.7,888.7 L1172.7,888.4 L1168.7,888 L1164.7,887.7 L1160.8,887.4 L1156.8,886.9 L1152.8,886.5 L1148.8,886.1 L1144.9,885.6 L1140.9,885.2 L1136.9,884.8 L1132.9,884.3 L1129,883.9 L1125,883.5 L1121,883 L1117.1,882.6 L1113.1,882.1 L1109.1,881.7 L1105.1,881.2 L1101.2,880.8 L1097.2,880.3 L1093.2,879.9 L1089.2,879.4 L1085.3,879 L1081.3,878.5 L1077.3,878.1 L1073.3,877.6 L1069.4,877.1 L1065.4,876.7 L1061.4,876.2 L1057.4,875.8 L1053.5,875.3 L1049.5,874.8 L1045.5,874.4 L1041.6,873.9 L1037.6,873.4 L1033.6,873 L1029.6,872.5 L1025.7,872 L1021.7,871.5 L1017.7,871.1 L1013.7,870.6 L1009.8,870.1 L1005.8,869.6 L1001.8,869.2 L997.8,868.7 L993.9,868.2 L989.9,867.7 L985.9,867.2 L982,866.7 L978,866.3 L974,865.8 L970,865.3 L966.1,864.8 L962.1,864.3 L958.1,863.8 L954.1,863.3 L950.2,862.8 L946.2,862.3 L942.2,861.8 L938.2,861.3 L934.3,860.8 L930.3,860.3 L926.3,859.8 L922.3,859.3 L918.4,858.8 L914.4,858.3 L910.4,857.8 L906.5,857.3 L902.5,856.8 L898.5,856.3 L894.5,855.8 L890.6,855.2 L886.6,854.7 L882.6,854.2 L878.6,853.7 L874.7,853 L870.7,852.4 L866.7,851.8 L862.7,851.2 L858.8,850.6 L854.8,850 L850.8,849.4 L846.8,848.7 L842.9,848.1 L838.9,847.5 L834.9,846.9 L831,846.2 L827,845.6 L823,845 L819,844.4 L815.1,843.7 L811.1,843.1 L807.1,842.5 L803.1,841.8 L799.2,841.2 L795.2,840.6 L791.2,839.9 L787.2,839.3 L783.3,838.6 L779.3,838 L775.3,837.3 L771.3,836.7 L767.4,836 L763.4,835.4Z" fill="#bdbdbb"/><path d="M763.4,835.4 L767.4,835.8 L771.3,836.2 L775.3,836.6 L779.3,837 L783.3,837.4 L787.2,837.8 L791.2,838.2 L795.2,838.6 L799.2,838.9 L803.1,839.3 L807.1,839.7 L811.1,840 L815.1,840.4 L819,840.8 L823,841.1 L827,841.5 L831,841.8 L834.9,842.2 L838.9,842.5 L842.9,842.9 L846.8,843.2 L850.8,843.5 L854.8,843.9 L858.8,844.2 L862.7,844.5 L866.7,844.8 L870.7,845.2 L874.7,845.5 L878.6,845.8 L882.6,846.1 L886.6,846.5 L890.6,846.9 L894.5,847.3 L898.5,847.6 L902.5,848 L906.5,848.4 L910.4,848.7 L914.4,849.1 L918.4,849.5 L922.3,849.8 L926.3,850.2 L930.3,850.5 L934.3,850.8 L938.2,851.2 L942.2,851.5 L946.2,851.9 L950.2,852.2 L954.1,852.5 L958.1,852.9 L962.1,853.2 L966.1,853.5 L970,853.8 L974,854.2 L978,854.5 L982,854.8 L985.9,855.1 L989.9,855.4 L993.9,855.7 L997.8,856 L1001.8,856.3 L1005.8,856.6 L1009.8,856.9 L1013.7,857.2 L1017.7,857.5 L1021.7,857.8 L1025.7,858.2 L1029.6,858.5 L1033.6,858.8 L1037.6,859.2 L1041.6,859.5 L1045.5,859.8 L1049.5,860.1 L1053.5,860.5 L1057.4,860.8 L1061.4,861.1 L1065.4,861.4 L1069.4,861.7 L1073.3,862.1 L1077.3,862.4 L1081.3,862.7 L1085.3,863 L1089.2,863.3 L1093.2,863.6 L1097.2,863.9 L1101.2,864.2 L1105.1,864.5 L1109.1,864.8 L1113.1,865.1 L1117.1,865.4 L1121,865.7 L1125,865.9 L1129,866.2 L1132.9,866.5 L1136.9,866.8 L1140.9,867.1 L1144.9,867.4 L1148.8,867.6 L1152.8,867.9 L1156.8,868.2 L1160.8,868.5 L1164.7,868.7 L1168.7,869 L1172.7,869.2 L1176.7,869.5 L1180.6,869.8 L1184.6,870 L1188.6,870.3 L1192.6,870.5 L1196.5,870.8 L1200.5,871 L1204.5,871.3 L1208.4,871.5 L1212.4,871.8 L1216.4,872 L1220.4,872.3 L1224.3,872.5 L1228.3,872.7 L1232.3,873 L1236.3,873.2 L1240.2,873.5 L1244.2,873.7 L1248.2,873.9 L1252.2,874.2 L1256.1,874.4 L1260.1,874.6 L1264.1,874.8 L1268.1,875.1 L1272,875.3 L1276,875.7 L1276,936.3 L1272,935.8 L1268.1,935.2 L1264.1,934.5 L1260.1,933.9 L1256.1,933.3 L1252.2,932.7 L1248.2,932.1 L1244.2,931.4 L1240.2,930.8 L1236.3,930.2 L1232.3,929.5 L1228.3,928.9 L1224.3,928.3 L1220.4,927.6 L1216.4,927 L1212.4,926.4 L1208.4,925.7 L1204.5,925.1 L1200.5,924.4 L1196.5,923.8 L1192.6,923.2 L1188.6,922.5 L1184.6,921.9 L1180.6,921.2 L1176.7,920.6 L1172.7,919.9 L1168.7,919.2 L1164.7,918.6 L1160.8,917.9 L1156.8,917.3 L1152.8,916.6 L1148.8,915.9 L1144.9,915.3 L1140.9,914.6 L1136.9,914 L1132.9,913.3 L1129,912.6 L1125,911.9 L1121,911.3 L1117.1,910.6 L1113.1,909.9 L1109.1,909.2 L1105.1,908.6 L1101.2,907.9 L1097.2,907.2 L1093.2,906.5 L1089.2,905.8 L1085.3,905.1 L1081.3,904.4 L1077.3,903.7 L1073.3,903 L1069.4,902.3 L1065.4,901.6 L1061.4,900.9 L1057.4,900.2 L1053.5,899.5 L1049.5,898.8 L1045.5,898.1 L1041.6,897.4 L1037.6,896.7 L1033.6,895.9 L1029.6,895.2 L1025.7,894.5 L1021.7,893.8 L1017.7,893 L1013.7,892.2 L1009.8,891.5 L1005.8,890.7 L1001.8,889.9 L997.8,889.1 L993.9,888.3 L989.9,887.5 L985.9,886.7 L982,885.9 L978,885.1 L974,884.3 L970,883.5 L966.1,882.7 L962.1,881.9 L958.1,881.1 L954.1,880.2 L950.2,879.4 L946.2,878.6 L942.2,877.8 L938.2,876.9 L934.3,876.1 L930.3,875.3 L926.3,874.4 L922.3,873.6 L918.4,872.8 L914.4,871.9 L910.4,871.1 L906.5,870.2 L902.5,869.4 L898.5,868.5 L894.5,867.7 L890.6,866.8 L886.6,865.9 L882.6,865.1 L878.6,864.2 L874.7,863.2 L870.7,862.3 L866.7,861.3 L862.7,860.4 L858.8,859.4 L854.8,858.4 L850.8,857.5 L846.8,856.5 L842.9,855.5 L838.9,854.6 L834.9,853.6 L831,852.6 L827,851.6 L823,850.6 L819,849.6 L815.1,848.6 L811.1,847.6 L807.1,846.6 L803.1,845.6 L799.2,844.6 L795.2,843.6 L791.2,842.6 L787.2,841.6 L783.3,840.6 L779.3,839.5 L775.3,838.5 L771.3,837.5 L767.4,836.4 L763.4,835.4Z" fill="#7f7f7f"/><path d="M692,835.4H766" stroke="#959595" stroke-width="3.2"/><path d="M692,835.4 L763.4,835.4 L767.4,836.1 L771.3,836.8 L775.3,837.6 L779.3,838.3 L783.3,839 L787.2,839.7 L791.2,840.4 L795.2,841.1 L799.2,841.8 L803.1,842.5 L807.1,843.2 L811.1,843.8 L815.1,844.5 L819,845.2 L823,845.9 L827,846.5 L831,847.2 L834.9,847.9 L838.9,848.5 L842.9,849.2 L846.8,849.9 L850.8,850.5 L854.8,851.2 L858.8,851.8 L862.7,852.4 L866.7,853.1 L870.7,853.7 L874.7,854.3 L878.6,855 L882.6,855.6 L886.6,856.2 L890.6,856.8 L894.5,857.5 L898.5,858.1 L902.5,858.7 L906.5,859.3 L910.4,859.9 L914.4,860.5 L918.4,861.1 L922.3,861.7 L926.3,862.3 L930.3,862.9 L934.3,863.5 L938.2,864.1 L942.2,864.7 L946.2,865.2 L950.2,865.8 L954.1,866.4 L958.1,867 L962.1,867.5 L966.1,868.1 L970,868.7 L974,869.2 L978,869.8 L982,870.3 L985.9,870.9 L989.9,871.5 L993.9,872 L997.8,872.6 L1001.8,873.1 L1005.8,873.6 L1009.8,874.2 L1013.7,874.7 L1017.7,875.3 L1021.7,875.8 L1025.7,876.3 L1029.6,876.9 L1033.6,877.4 L1037.6,877.9 L1041.6,878.4 L1045.5,879 L1049.5,879.5 L1053.5,880 L1057.4,880.5 L1061.4,881 L1065.4,881.5 L1069.4,882 L1073.3,882.5 L1077.3,883 L1081.3,883.6 L1085.3,884.1 L1089.2,884.5 L1093.2,885 L1097.2,885.5 L1101.2,886 L1105.1,886.5 L1109.1,887 L1113.1,887.5 L1117.1,888 L1121,888.5 L1125,888.9 L1129,889.4 L1132.9,889.9 L1136.9,890.4 L1140.9,890.8 L1144.9,891.3 L1148.8,891.8 L1152.8,892.3 L1156.8,892.7 L1160.8,893.2 L1164.7,893.7 L1168.7,894.1 L1172.7,894.6 L1176.7,895 L1180.6,895.5 L1184.6,895.9 L1188.6,896.4 L1192.6,896.8 L1196.5,897.3 L1200.5,897.7 L1204.5,898.2 L1208.4,898.6 L1212.4,899.1 L1216.4,899.5 L1220.4,900 L1224.3,900.4 L1228.3,900.8 L1232.3,901.3 L1236.3,901.7 L1240.2,902.1 L1244.2,902.6 L1248.2,903 L1252.2,903.4 L1256.1,903.8 L1260.1,904.3 L1264.1,904.7 L1268.1,905.1 L1272,905.5 L1276,906" stroke="#0d0d0d" stroke-width="4.6" fill="none" stroke-dasharray="17.7 17.7" stroke-dashoffset="511.5" /><path d="M692,835.4 L763.4,835.4 L767.4,835.8 L771.3,836.2 L775.3,836.6 L779.3,837 L783.3,837.4 L787.2,837.8 L791.2,838.2 L795.2,838.6 L799.2,839 L803.1,839.4 L807.1,839.8 L811.1,840.1 L815.1,840.5 L819,840.9 L823,841.3 L827,841.7 L831,842.1 L834.9,842.4 L838.9,842.8 L842.9,843.2 L846.8,843.6 L850.8,844 L854.8,844.3 L858.8,844.7 L862.7,845.1 L866.7,845.4 L870.7,845.8 L874.7,846.2 L878.6,846.5 L882.6,846.9 L886.6,847.3 L890.6,847.6 L894.5,848 L898.5,848.3 L902.5,848.7 L906.5,849.1 L910.4,849.4 L914.4,849.8 L918.4,850.1 L922.3,850.5 L926.3,850.8 L930.3,851.2 L934.3,851.5 L938.2,851.8 L942.2,852.2 L946.2,852.5 L950.2,852.9 L954.1,853.2 L958.1,853.5 L962.1,853.9 L966.1,854.2 L970,854.5 L974,854.9 L978,855.2 L982,855.5 L985.9,855.9 L989.9,856.2 L993.9,856.5 L997.8,856.8 L1001.8,857.2 L1005.8,857.5 L1009.8,857.8 L1013.7,858.1 L1017.7,858.4 L1021.7,858.8 L1025.7,859.1 L1029.6,859.4 L1033.6,859.7 L1037.6,860 L1041.6,860.3 L1045.5,860.6 L1049.5,860.9 L1053.5,861.2 L1057.4,861.5 L1061.4,861.8 L1065.4,862.1 L1069.4,862.4 L1073.3,862.7 L1077.3,863 L1081.3,863.3 L1085.3,863.6 L1089.2,863.9 L1093.2,864.2 L1097.2,864.5 L1101.2,864.8 L1105.1,865.1 L1109.1,865.4 L1113.1,865.6 L1117.1,865.9 L1121,866.2 L1125,866.5 L1129,866.8 L1132.9,867 L1136.9,867.3 L1140.9,867.6 L1144.9,867.9 L1148.8,868.1 L1152.8,868.4 L1156.8,868.7 L1160.8,868.9 L1164.7,869.2 L1168.7,869.5 L1172.7,869.7 L1176.7,870 L1180.6,870.3 L1184.6,870.5 L1188.6,870.8 L1192.6,871 L1196.5,871.3 L1200.5,871.5 L1204.5,871.8 L1208.4,872 L1212.4,872.3 L1216.4,872.5 L1220.4,872.8 L1224.3,873 L1228.3,873.3 L1232.3,873.5 L1236.3,873.8 L1240.2,874 L1244.2,874.3 L1248.2,874.5 L1252.2,874.7 L1256.1,875 L1260.1,875.2 L1264.1,875.4 L1268.1,875.7 L1272,875.9 L1276,876.1" stroke="#818181" stroke-width="4.6" fill="none" stroke-dasharray="17.7 17.7" stroke-dashoffset="511.5" /><g fill="#111"><circle cx="219.8" cy="859" r="5"/><circle cx="226" cy="862.4" r="5"/><circle cx="232.2" cy="863.1" r="5"/><circle cx="238.4" cy="860.3" r="5"/><circle cx="244.6" cy="857.1" r="5"/><circle cx="250.8" cy="854" r="5"/><circle cx="257" cy="850.8" r="5"/><circle cx="329" cy="847" r="5"/><circle cx="335.1" cy="844" r="5"/><circle cx="341.2" cy="843.6" r="5"/><circle cx="347.2" cy="845.5" r="5"/><circle cx="353.3" cy="848" r="5"/><circle cx="359.4" cy="850.2" r="5"/><circle cx="365.5" cy="844.8" r="5"/><circle cx="371.6" cy="842.9" r="5"/><circle cx="377.7" cy="842" r="5"/><circle cx="383.8" cy="843.1" r="5"/><circle cx="389.8" cy="844.9" r="5"/><circle cx="395.9" cy="843.9" r="5"/><circle cx="402" cy="841.4" r="5"/><circle cx="408.1" cy="838.2" r="5"/><circle cx="414.2" cy="834.3" r="5"/><circle cx="420.2" cy="831.6" r="5"/><circle cx="426.3" cy="830.5" r="5"/><circle cx="432.4" cy="829.4" r="5"/><circle cx="438.5" cy="827.8" r="5"/><circle cx="444.6" cy="824.7" r="5"/><circle cx="450.7" cy="820.9" r="5"/><circle cx="456.8" cy="817.1" r="5"/><circle cx="462.8" cy="814" r="5"/><circle cx="468.9" cy="812.6" r="5"/><circle cx="475" cy="812" r="5"/><circle cx="481.1" cy="812.4" r="5"/><circle cx="487.2" cy="813.1" r="5"/><circle cx="493.2" cy="813.8" r="5"/><circle cx="499.3" cy="813.6" r="5"/><circle cx="505.4" cy="812.6" r="5"/><circle cx="511.5" cy="810.2" r="5"/><circle cx="517.6" cy="807.8" r="5"/><circle cx="523.7" cy="807.2" r="5"/><circle cx="529.8" cy="809.6" r="5"/><circle cx="535.8" cy="815.6" r="5"/><circle cx="541.9" cy="821" r="5"/><circle cx="548" cy="827.3" r="5"/><circle cx="554.1" cy="826.4" r="5"/><circle cx="560.2" cy="823.1" r="5"/><circle cx="566.2" cy="819.8" r="5"/><circle cx="572.3" cy="818.1" r="5"/><circle cx="578.4" cy="817.6" r="5"/><circle cx="584.5" cy="822.6" r="5"/><circle cx="626.5" cy="829.1" r="5"/><circle cx="632.9" cy="840.3" r="5"/><circle cx="639" cy="845.2" r="5"/><circle cx="645" cy="847" r="5"/><circle cx="651.1" cy="845.9" r="5"/><circle cx="657.2" cy="844.7" r="5"/><circle cx="663.3" cy="844.3" r="5"/><circle cx="669.3" cy="844.1" r="5"/><circle cx="675.4" cy="844" r="5"/><circle cx="681.5" cy="844" r="5"/><circle cx="687.5" cy="844.2" r="5"/><circle cx="693.6" cy="844.5" r="5"/><circle cx="699.7" cy="845.3" r="5"/><circle cx="705.8" cy="846" r="5"/><circle cx="711.8" cy="846.5" r="5"/><circle cx="717.9" cy="847" r="5"/><circle cx="724" cy="847.5" r="5"/><circle cx="730" cy="847.8" r="5"/><circle cx="736.1" cy="847" r="5"/><circle cx="742.2" cy="845.2" r="5"/><circle cx="748.3" cy="840.5" r="5"/><circle cx="754.3" cy="832.8" r="5"/><circle cx="760.4" cy="824.9" r="5"/><circle cx="766.5" cy="819" r="5"/><circle cx="772.5" cy="817.6" r="5"/><circle cx="778.6" cy="817.2" r="5"/><circle cx="784.7" cy="818.2" r="5"/><circle cx="790.8" cy="819.5" r="5"/><circle cx="796.8" cy="819.9" r="5"/><circle cx="802.9" cy="820.4" r="5"/><circle cx="809" cy="821.3" r="5"/><circle cx="815.1" cy="823.5" r="5"/><circle cx="821.1" cy="831" r="5"/><circle cx="827.2" cy="841.2" r="5"/><circle cx="833.3" cy="849.3" r="5"/><circle cx="839.3" cy="860.7" r="5"/><circle cx="845.4" cy="868.1" r="5"/><circle cx="851.5" cy="871.9" r="5"/><circle cx="857.6" cy="874.4" r="5"/><circle cx="863.6" cy="876.8" r="5"/><circle cx="869.7" cy="878.9" r="5"/><circle cx="875.8" cy="881.1" r="5"/><circle cx="881.8" cy="883.7" r="5"/><circle cx="887.9" cy="886.6" r="5"/><circle cx="894" cy="889.9" r="5"/><circle cx="900.1" cy="893.4" r="5"/><circle cx="906.1" cy="896.8" r="5"/><circle cx="912.2" cy="900" r="5"/><circle cx="918.3" cy="903.1" r="5"/><circle cx="924.3" cy="906.1" r="5"/><circle cx="930.4" cy="909" r="5"/><circle cx="936.5" cy="911.7" r="5"/><circle cx="942.6" cy="914.4" r="5"/><circle cx="948.6" cy="917.2" r="5"/><circle cx="954.7" cy="919.9" r="5"/><circle cx="960.8" cy="922.7" r="5"/><circle cx="966.8" cy="925.3" r="5"/><circle cx="972.9" cy="927.9" r="5"/><circle cx="979" cy="930.6" r="5"/><circle cx="985.1" cy="933.6" r="5"/><circle cx="991.1" cy="937.1" r="5"/><circle cx="997.2" cy="941.4" r="5"/><circle cx="1003.3" cy="945.6" r="5"/><circle cx="1009.3" cy="949.6" r="5"/><circle cx="1015.4" cy="953.3" r="5"/><circle cx="1021.5" cy="955.4" r="5"/><circle cx="1027.6" cy="956.7" r="5"/><circle cx="1033.6" cy="957.5" r="5"/><circle cx="1039.7" cy="957.3" r="5"/><circle cx="1045.8" cy="955.7" r="5"/><circle cx="1051.8" cy="953.5" r="5"/><circle cx="1057.9" cy="950.7" r="5"/><circle cx="1064" cy="947.2" r="5"/><circle cx="1070.1" cy="943.9" r="5"/><circle cx="1076.1" cy="940.6" r="5"/><circle cx="1082.2" cy="938" r="5"/><circle cx="1088.3" cy="937.3" r="5"/><circle cx="1094.4" cy="937.1" r="5"/><circle cx="1100.4" cy="937" r="5"/><circle cx="1106.5" cy="939.3" r="5"/><circle cx="1112.6" cy="943.6" r="5"/><circle cx="1118.6" cy="947.3" r="5"/><circle cx="1124.7" cy="948.6" r="5"/><circle cx="1130.8" cy="949.5" r="5"/><circle cx="1136.9" cy="950.1" r="5"/><circle cx="1142.9" cy="950.3" r="5"/><circle cx="1149" cy="949.6" r="5"/><circle cx="1155.1" cy="948.4" r="5"/><circle cx="1161.1" cy="947.6" r="5"/><circle cx="1167.2" cy="947.5" r="5"/><circle cx="1173.3" cy="947.7" r="5"/><circle cx="1179.4" cy="948" r="5"/><circle cx="1185.4" cy="948.3" r="5"/><circle cx="1191.5" cy="949.4" r="5"/><circle cx="1197.6" cy="951" r="5"/><circle cx="1203.6" cy="952.8" r="5"/><circle cx="1209.7" cy="954.4" r="5"/><circle cx="1215.8" cy="956.1" r="5"/><circle cx="1221.9" cy="958" r="5"/><circle cx="1227.9" cy="960.2" r="5"/><circle cx="1234" cy="962.9" r="5"/></g><path d="M692.4,835.4 L696.3,834.4 L700.2,833.5 L704.2,832.6 L708.1,831.7 L712,830.8 L715.9,829.9 L719.8,829 L723.7,828.2 L727.7,827.3 L731.6,826.5 L735.5,825.6 L739.4,824.7 L743.3,823.9 L747.2,823.1 L751.2,822.2 L755.1,821.4 L759,820.5 L762.9,819.7 L766.8,818.9 L770.7,818 L774.7,817.2 L778.6,816.3 L782.5,815.5 L786.4,814.7 L790.3,813.9 L794.2,813 L798.2,812.2 L802.1,811.4 L806,810.5 L809.9,809.7 L813.8,808.9 L817.7,808.1 L821.7,807.2 L825.6,806.4 L829.5,805.6 L833.4,804.8 L837.3,804 L841.2,803.1 L845.2,802.3 L849.1,801.5 L853,800.7 L856.9,799.9 L860.8,799 L864.7,798.2 L868.7,797.4 L872.6,796.6 L876.5,795.8 L880.4,795 L884.3,794.2 L888.2,793.3 L892.2,792.5 L896.1,791.7 L900,790.9 L903.9,790.1 L907.8,789.3 L911.7,788.5 L915.7,787.7 L919.6,786.8 L923.5,786 L927.4,785.2 L931.3,784.4 L935.2,783.6 L939.2,782.8 L943.1,782 L947,781.2 L950.9,780.4 L954.8,779.6 L958.7,778.8 L962.7,777.9 L966.6,777.1 L970.5,776.3 L974.4,775.5 L978.3,774.7 L982.2,773.9 L986.2,773.1 L990.1,772.3 L994,771.5 L997.9,770.7 L1001.8,769.9 L1005.7,769.1 L1009.7,768.3 L1013.6,767.5 L1017.5,766.7 L1021.4,765.9 L1025.3,765.1 L1029.2,764.3 L1033.2,763.5 L1037.1,762.7 L1041,761.9 L1044.9,761.1 L1048.8,760.3 L1052.7,759.5 L1056.7,758.7 L1060.6,757.9 L1064.5,757.1 L1068.4,756.3 L1072.3,755.5 L1076.2,754.7 L1080.2,753.9 L1084.1,753.1 L1088,752.3 L1091.9,751.5 L1095.8,750.7 L1099.7,749.9 L1103.7,749.1 L1107.6,748.3 L1111.5,747.5 L1115.4,746.7 L1119.3,745.9 L1123.2,745.1 L1127.2,744.3 L1131.1,743.5 L1135,742.7 L1138.9,741.9 L1142.8,741.1 L1146.7,740.3 L1150.7,739.5 L1154.6,738.7 L1158.5,737.9 L1162.4,737.1 L1166.3,736.3 L1170.2,735.5 L1174.2,734.7 L1178.1,733.9 L1182,733.1 L1185.9,732.3 L1189.8,731.5 L1193.7,730.7 L1197.7,729.9 L1201.6,729.1 L1205.5,728.3 L1209.4,727.5 L1213.3,726.8 L1217.2,726 L1221.2,725.2 L1225.1,724.4 L1229,723.6 L1232.9,722.8 L1236.8,722 L1240.7,721.2 L1244.7,720.4 L1248.6,719.6 L1252.5,718.8 L1256.4,718 L1260.3,717.2 L1264.2,716.4 L1268.2,715.6 L1272.1,714.8 L1276,714.1 L1276,743.5 L1272.1,744.1 L1268.2,744.8 L1264.2,745.4 L1260.3,746.1 L1256.4,746.7 L1252.5,747.3 L1248.6,748 L1244.7,748.6 L1240.7,749.2 L1236.8,749.9 L1232.9,750.5 L1229,751.2 L1225.1,751.8 L1221.2,752.4 L1217.2,753.1 L1213.3,753.7 L1209.4,754.3 L1205.5,755 L1201.6,755.6 L1197.7,756.2 L1193.7,756.9 L1189.8,757.5 L1185.9,758.2 L1182,758.8 L1178.1,759.4 L1174.2,760.1 L1170.2,760.7 L1166.3,761.3 L1162.4,762 L1158.5,762.6 L1154.6,763.2 L1150.7,763.9 L1146.7,764.5 L1142.8,765.1 L1138.9,765.8 L1135,766.4 L1131.1,767 L1127.2,767.7 L1123.2,768.3 L1119.3,768.9 L1115.4,769.6 L1111.5,770.2 L1107.6,770.8 L1103.7,771.5 L1099.7,772.1 L1095.8,772.7 L1091.9,773.4 L1088,774 L1084.1,774.6 L1080.2,775.3 L1076.2,775.9 L1072.3,776.5 L1068.4,777.2 L1064.5,777.8 L1060.6,778.4 L1056.7,779 L1052.7,779.7 L1048.8,780.3 L1044.9,780.9 L1041,781.6 L1037.1,782.2 L1033.2,782.8 L1029.2,783.4 L1025.3,784.1 L1021.4,784.7 L1017.5,785.3 L1013.6,786 L1009.7,786.6 L1005.7,787.2 L1001.8,787.8 L997.9,788.5 L994,789.1 L990.1,789.7 L986.2,790.3 L982.2,791 L978.3,791.6 L974.4,792.2 L970.5,792.8 L966.6,793.5 L962.7,794.1 L958.7,794.7 L954.8,795.3 L950.9,796 L947,796.6 L943.1,797.2 L939.2,797.8 L935.2,798.5 L931.3,799.1 L927.4,799.7 L923.5,800.3 L919.6,800.9 L915.7,801.6 L911.7,802.2 L907.8,802.8 L903.9,803.4 L900,804 L896.1,804.7 L892.2,805.3 L888.2,805.9 L884.3,806.5 L880.4,807.1 L876.5,807.8 L872.6,808.4 L868.7,809 L864.7,809.6 L860.8,810.2 L856.9,810.8 L853,811.4 L849.1,812.1 L845.2,812.7 L841.2,813.3 L837.3,813.9 L833.4,814.5 L829.5,815.1 L825.6,815.7 L821.7,816.3 L817.7,816.9 L813.8,817.5 L809.9,818.1 L806,818.8 L802.1,819.4 L798.2,820 L794.2,820.6 L790.3,821.2 L786.4,821.8 L782.5,822.4 L778.6,823 L774.7,823.6 L770.7,824.2 L766.8,824.8 L762.9,825.4 L759,825.9 L755.1,826.5 L751.2,827.1 L747.2,827.7 L743.3,828.3 L739.4,828.9 L735.5,829.5 L731.6,830 L727.7,830.6 L723.7,831.2 L719.8,831.7 L715.9,832.3 L712,832.9 L708.1,833.4 L704.2,834 L700.2,834.5 L696.3,835 L692.4,835.4Z" fill="#258a26" fill-opacity="0.6"/><path d="M692.4,835.4 L696.3,836.9 L700.2,838.5 L704.2,840 L708.1,841.4 L712,842.9 L715.9,844.3 L719.8,845.8 L723.7,847.2 L727.7,848.6 L731.6,850 L735.5,851.3 L739.4,852.7 L743.3,854 L747.2,855.3 L751.2,856.6 L755.1,857.9 L759,859.1 L762.9,860.5 L766.8,862 L770.7,863.4 L774.7,864.8 L778.6,866.2 L782.5,867.6 L786.4,869 L790.3,870.3 L794.2,871.7 L798.2,873 L802.1,874.3 L806,875.6 L809.9,876.9 L813.8,878.2 L817.7,879.4 L821.7,880.6 L825.6,881.8 L829.5,882.9 L833.4,884.1 L837.3,885.2 L841.2,886.3 L845.2,887.4 L849.1,888.4 L853,889.5 L856.9,890.5 L860.8,891.5 L864.7,892.5 L868.7,893.5 L872.6,894.5 L876.5,895.4 L880.4,896.4 L884.3,897.3 L888.2,898.2 L892.2,899.1 L896.1,900.1 L900,900.9 L903.9,901.8 L907.8,902.7 L911.7,903.5 L915.7,904.4 L919.6,905.2 L923.5,906 L927.4,906.9 L931.3,907.7 L935.2,908.4 L939.2,909.2 L943.1,910 L947,910.7 L950.9,911.5 L954.8,912.2 L958.7,913 L962.7,913.7 L966.6,914.5 L970.5,915.2 L974.4,915.9 L978.3,916.7 L982.2,917.4 L986.2,918.1 L990.1,918.8 L994,919.5 L997.9,920.2 L1001.8,920.8 L1005.7,921.5 L1009.7,922.2 L1013.6,922.8 L1017.5,923.4 L1021.4,924.1 L1025.3,924.7 L1029.2,925.3 L1033.2,925.9 L1037.1,926.5 L1041,927.1 L1044.9,927.6 L1048.8,928.2 L1052.7,928.7 L1056.7,929.3 L1060.6,929.8 L1064.5,930.4 L1068.4,930.9 L1072.3,931.4 L1076.2,931.9 L1080.2,932.4 L1084.1,932.9 L1088,933.4 L1091.9,933.9 L1095.8,934.3 L1099.7,934.8 L1103.7,935.3 L1107.6,935.8 L1111.5,936.3 L1115.4,936.7 L1119.3,937.2 L1123.2,937.7 L1127.2,938.1 L1131.1,938.6 L1135,939 L1138.9,939.4 L1142.8,939.9 L1146.7,940.3 L1150.7,940.7 L1154.6,941.1 L1158.5,941.5 L1162.4,941.9 L1166.3,942.3 L1170.2,942.6 L1174.2,943 L1178.1,943.4 L1182,943.7 L1185.9,944.1 L1189.8,944.4 L1193.7,944.8 L1197.7,945.1 L1201.6,945.4 L1205.5,945.8 L1209.4,946.1 L1213.3,946.4 L1217.2,946.7 L1221.2,947 L1225.1,947.3 L1229,947.6 L1232.9,947.9 L1236.8,948.1 L1240.7,948.4 L1244.7,948.7 L1248.6,948.9 L1252.5,949.2 L1256.4,949.4 L1260.3,949.7 L1264.2,949.9 L1268.2,950.2 L1272.1,950.4 L1276,950.7 L1276,993.9 L1272.1,993.6 L1268.2,993.2 L1264.2,992.7 L1260.3,992.3 L1256.4,991.9 L1252.5,991.5 L1248.6,991.1 L1244.7,990.6 L1240.7,990.2 L1236.8,989.8 L1232.9,989.3 L1229,988.8 L1225.1,988.4 L1221.2,987.9 L1217.2,987.4 L1213.3,987 L1209.4,986.5 L1205.5,986 L1201.6,985.5 L1197.7,985 L1193.7,984.5 L1189.8,984 L1185.9,983.5 L1182,982.9 L1178.1,982.4 L1174.2,981.9 L1170.2,981.3 L1166.3,980.8 L1162.4,980.2 L1158.5,979.7 L1154.6,979.1 L1150.7,978.5 L1146.7,977.9 L1142.8,977.3 L1138.9,976.7 L1135,976.1 L1131.1,975.5 L1127.2,974.9 L1123.2,974.3 L1119.3,973.6 L1115.4,973 L1111.5,972.4 L1107.6,971.7 L1103.7,971 L1099.7,970.4 L1095.8,969.7 L1091.9,968.9 L1088,968.2 L1084.1,967.5 L1080.2,966.7 L1076.2,966 L1072.3,965.2 L1068.4,964.4 L1064.5,963.6 L1060.6,962.8 L1056.7,962 L1052.7,961.2 L1048.8,960.4 L1044.9,959.6 L1041,958.8 L1037.1,957.9 L1033.2,957.1 L1029.2,956.2 L1025.3,955.4 L1021.4,954.5 L1017.5,953.6 L1013.6,952.7 L1009.7,951.8 L1005.7,950.9 L1001.8,950 L997.9,949.1 L994,948.1 L990.1,947.2 L986.2,946.2 L982.2,945.3 L978.3,944.3 L974.4,943.3 L970.5,942.3 L966.6,941.3 L962.7,940.3 L958.7,939.2 L954.8,938.1 L950.9,937 L947,935.9 L943.1,934.8 L939.2,933.7 L935.2,932.5 L931.3,931.4 L927.4,930.2 L923.5,929 L919.6,927.8 L915.7,926.6 L911.7,925.4 L907.8,924.2 L903.9,923 L900,921.7 L896.1,920.5 L892.2,919.2 L888.2,917.9 L884.3,916.6 L880.4,915.3 L876.5,914 L872.6,912.7 L868.7,911.4 L864.7,910 L860.8,908.6 L856.9,907.3 L853,905.9 L849.1,904.5 L845.2,903 L841.2,901.6 L837.3,900.2 L833.4,898.7 L829.5,897.3 L825.6,895.8 L821.7,894.4 L817.7,892.9 L813.8,891.5 L809.9,890 L806,888.6 L802.1,887.1 L798.2,885.6 L794.2,884.1 L790.3,882.6 L786.4,881 L782.5,879.5 L778.6,877.9 L774.7,876.3 L770.7,874.7 L766.8,873.1 L762.9,871.5 L759,869.8 L755.1,867.9 L751.2,866 L747.2,864.1 L743.3,862.1 L739.4,860.2 L735.5,858.2 L731.6,856.2 L727.7,854.2 L723.7,852.2 L719.8,850.2 L715.9,848.1 L712,846 L708.1,843.9 L704.2,841.8 L700.2,839.7 L696.3,837.6 L692.4,835.4Z" fill="#d62728" fill-opacity="0.6"/><path d="M692.4,835.4 L696,837.9 L699.6,840.4 L703.3,842.9 L706.9,845.4 L710.5,847.8 L714.1,850.3 L717.8,852.6 L721.4,855 L725,857.4 L728.6,859.7 L732.3,862 L735.9,864.3 L739.5,866.5 L743.1,868.7 L746.8,870.9 L750.4,873.1 L754,875.3 L757.6,877.4 L761.3,879.6 L764.9,881.9 L768.5,884.1 L772.1,886.3 L775.8,888.5 L779.4,890.7 L783,892.9 L786.6,895 L790.3,897.1 L793.9,899.2 L797.5,901.3 L801.1,903.4 L804.8,905.4 L808.4,907.4 L812,909.5 L815.6,911.4 L819.3,913.4 L822.9,915.4 L826.5,917.3 L830.1,919.2 L833.8,921.1 L837.4,922.9 L841,924.7 L844.6,926.5 L848.3,928.3 L851.9,930.1 L855.5,931.8 L859.1,933.6 L862.8,935.3 L866.4,937 L870,938.7 L873.6,940.3 L877.3,942 L880.9,943.6 L884.5,945.2 L888.1,946.9 L891.8,948.4 L895.4,950 L899,951.6 L902.6,953.1 L906.3,954.7 L909.9,956.2 L913.5,957.7 L917.1,959.2 L920.8,960.7 L924.4,962.1 L928,963.6 L931.6,965 L935.3,966.5 L938.9,967.9 L942.5,969.3 L946.1,970.6 L949.8,972 L953.4,973.4 L957,974.7 L960.6,976.1 L964.3,977.5 L967.9,978.9 L971.5,980.2 L975.1,981.6 L978.8,982.9 L982.4,984.3 L986,985.6 L989.6,986.9 L993.3,988.2 L996.9,989.5 L1000.5,990.8 L1004.1,992 L1007.8,993.3 L1011.4,994.5 L1015,995.8 L1018.6,997 L1022.3,998.2 L1025.9,999.4 L1029.5,1000.6 L1033.1,1001.8 L1036.8,1003 L1040.4,1004.3 L1044,1005.5 L1047.6,1006.7 L1051.3,1007.9 L1054.9,1009 L1058.5,1010.2 L1062.1,1011.4 L1065.8,1012.5 L1069.4,1013.7 L1073,1014.8 L1076.6,1015.9 L1080.3,1017.1 L1083.9,1018.2 L1087.5,1019.3 L1091.1,1020.4 L1094.8,1021.4 L1098.4,1022.5 L1102,1023.6 L1105.6,1024.6 L1109.3,1025.7 L1112.9,1026.7 L1116.5,1027.7 L1120.1,1028.8 L1123.8,1029.8 L1127.4,1030.8 L1131,1031.8 L1134.6,1032.8 L1138.3,1033.7 L1141.9,1034.7 L1145.5,1035.7 L1149.1,1036.6 L1152.8,1037.6 L1156.4,1038.5 L1160,1039.5 L1160,1065.5 L1156.4,1064.5 L1152.8,1063.6 L1149.1,1062.6 L1145.5,1061.6 L1141.9,1060.7 L1138.3,1059.7 L1134.6,1058.7 L1131,1057.7 L1127.4,1056.7 L1123.8,1055.7 L1120.1,1054.6 L1116.5,1053.6 L1112.9,1052.6 L1109.3,1051.5 L1105.6,1050.5 L1102,1049.4 L1098.4,1048.3 L1094.8,1047.2 L1091.1,1046.1 L1087.5,1045 L1083.9,1043.9 L1080.3,1042.8 L1076.6,1041.7 L1073,1040.5 L1069.4,1039.4 L1065.8,1038.2 L1062.1,1037.1 L1058.5,1035.9 L1054.9,1034.7 L1051.3,1033.5 L1047.6,1032.3 L1044,1031.1 L1040.4,1029.9 L1036.8,1028.7 L1033.1,1027.4 L1029.5,1026.2 L1025.9,1024.8 L1022.3,1023.5 L1018.6,1022.2 L1015,1020.8 L1011.4,1019.4 L1007.8,1018 L1004.1,1016.7 L1000.5,1015.3 L996.9,1013.8 L993.3,1012.4 L989.6,1011 L986,1009.5 L982.4,1008.1 L978.8,1006.6 L975.1,1005.1 L971.5,1003.6 L967.9,1002.1 L964.3,1000.6 L960.6,999.1 L957,997.5 L953.4,995.9 L949.8,994.2 L946.1,992.6 L942.5,990.9 L938.9,989.2 L935.3,987.6 L931.6,985.8 L928,984.1 L924.4,982.4 L920.8,980.7 L917.1,978.9 L913.5,977.1 L909.9,975.3 L906.3,973.5 L902.6,971.7 L899,969.9 L895.4,968.1 L891.8,966.2 L888.1,964.3 L884.5,962.4 L880.9,960.5 L877.3,958.6 L873.6,956.7 L870,954.7 L866.4,952.8 L862.8,950.8 L859.1,948.8 L855.5,946.8 L851.9,944.8 L848.3,942.7 L844.6,940.6 L841,938.6 L837.4,936.5 L833.8,934.4 L830.1,932.2 L826.5,930.1 L822.9,928 L819.3,925.9 L815.6,923.7 L812,921.5 L808.4,919.3 L804.8,917.1 L801.1,914.9 L797.5,912.7 L793.9,910.4 L790.3,908.1 L786.6,905.8 L783,903.5 L779.4,901.1 L775.8,898.8 L772.1,896.4 L768.5,894 L764.9,891.5 L761.3,889.1 L757.6,886.5 L754,883.9 L750.4,881.2 L746.8,878.5 L743.1,875.8 L739.5,873.1 L735.9,870.3 L732.3,867.5 L728.6,864.7 L725,861.9 L721.4,859 L717.8,856.2 L714.1,853.3 L710.5,850.4 L706.9,847.4 L703.3,844.4 L699.6,841.5 L696,838.4 L692.4,835.4Z" fill="#11146e" fill-opacity="0.6"/><g fill="#000" fill-opacity="0.2"><circle cx="760.4" cy="824.9" r="5"/><circle cx="766.5" cy="819" r="5"/><circle cx="772.5" cy="817.6" r="5"/><circle cx="778.6" cy="817.2" r="5"/><circle cx="784.7" cy="818.2" r="5"/><circle cx="790.8" cy="819.5" r="5"/><circle cx="796.8" cy="819.9" r="5"/><circle cx="802.9" cy="820.4" r="5"/><circle cx="809" cy="821.3" r="5"/><circle cx="815.1" cy="823.5" r="5"/><circle cx="821.1" cy="831" r="5"/><circle cx="827.2" cy="841.2" r="5"/><circle cx="833.3" cy="849.3" r="5"/><circle cx="839.3" cy="860.7" r="5"/><circle cx="845.4" cy="868.1" r="5"/><circle cx="851.5" cy="871.9" r="5"/><circle cx="857.6" cy="874.4" r="5"/><circle cx="863.6" cy="876.8" r="5"/><circle cx="869.7" cy="878.9" r="5"/><circle cx="875.8" cy="881.1" r="5"/><circle cx="881.8" cy="883.7" r="5"/><circle cx="887.9" cy="886.6" r="5"/><circle cx="894" cy="889.9" r="5"/><circle cx="900.1" cy="893.4" r="5"/><circle cx="906.1" cy="896.8" r="5"/><circle cx="912.2" cy="900" r="5"/><circle cx="918.3" cy="903.1" r="5"/><circle cx="924.3" cy="906.1" r="5"/><circle cx="930.4" cy="909" r="5"/><circle cx="936.5" cy="911.7" r="5"/><circle cx="942.6" cy="914.4" r="5"/><circle cx="948.6" cy="917.2" r="5"/><circle cx="954.7" cy="919.9" r="5"/><circle cx="960.8" cy="922.7" r="5"/><circle cx="966.8" cy="925.3" r="5"/><circle cx="972.9" cy="927.9" r="5"/><circle cx="979" cy="930.6" r="5"/><circle cx="985.1" cy="933.6" r="5"/><circle cx="991.1" cy="937.1" r="5"/><circle cx="997.2" cy="941.4" r="5"/><circle cx="1003.3" cy="945.6" r="5"/><circle cx="1009.3" cy="949.6" r="5"/><circle cx="1015.4" cy="953.3" r="5"/><circle cx="1021.5" cy="955.4" r="5"/><circle cx="1027.6" cy="956.7" r="5"/><circle cx="1033.6" cy="957.5" r="5"/><circle cx="1039.7" cy="957.3" r="5"/><circle cx="1045.8" cy="955.7" r="5"/><circle cx="1051.8" cy="953.5" r="5"/><circle cx="1057.9" cy="950.7" r="5"/><circle cx="1064" cy="947.2" r="5"/><circle cx="1070.1" cy="943.9" r="5"/><circle cx="1076.1" cy="940.6" r="5"/><circle cx="1082.2" cy="938" r="5"/><circle cx="1088.3" cy="937.3" r="5"/><circle cx="1094.4" cy="937.1" r="5"/><circle cx="1100.4" cy="937" r="5"/><circle cx="1106.5" cy="939.3" r="5"/><circle cx="1112.6" cy="943.6" r="5"/><circle cx="1118.6" cy="947.3" r="5"/><circle cx="1124.7" cy="948.6" r="5"/><circle cx="1130.8" cy="949.5" r="5"/><circle cx="1136.9" cy="950.1" r="5"/><circle cx="1142.9" cy="950.3" r="5"/><circle cx="1149" cy="949.6" r="5"/><circle cx="1155.1" cy="948.4" r="5"/><circle cx="1161.1" cy="947.6" r="5"/><circle cx="1167.2" cy="947.5" r="5"/><circle cx="1173.3" cy="947.7" r="5"/><circle cx="1179.4" cy="948" r="5"/><circle cx="1185.4" cy="948.3" r="5"/><circle cx="1191.5" cy="949.4" r="5"/><circle cx="1197.6" cy="951" r="5"/><circle cx="1203.6" cy="952.8" r="5"/><circle cx="1209.7" cy="954.4" r="5"/><circle cx="1215.8" cy="956.1" r="5"/><circle cx="1221.9" cy="958" r="5"/><circle cx="1227.9" cy="960.2" r="5"/><circle cx="1234" cy="962.9" r="5"/></g><path d="M692.4,835.4 L696.3,837.3 L700.2,839.1 L704.2,840.9 L708.1,842.7 L712,844.5 L715.9,846.2 L719.8,848 L723.7,849.7 L727.7,851.4 L731.6,853.1 L735.5,854.8 L739.4,856.4 L743.3,858.1 L747.2,859.7 L751.2,861.3 L755.1,862.9 L759,864.4 L762.9,866 L766.8,867.5 L770.7,869.1 L774.7,870.6 L778.6,872.1 L782.5,873.5 L786.4,875 L790.3,876.5 L794.2,877.9 L798.2,879.3 L802.1,880.7 L806,882.1 L809.9,883.5 L813.8,884.8 L817.7,886.2 L821.7,887.5 L825.6,888.8 L829.5,890.1 L833.4,891.4 L837.3,892.7 L841.2,893.9 L845.2,895.2 L849.1,896.4 L853,897.7 L856.9,898.9 L860.8,900.1 L864.7,901.2 L868.7,902.4 L872.6,903.6 L876.5,904.7 L880.4,905.9 L884.3,907 L888.2,908.1 L892.2,909.2 L896.1,910.3 L900,911.3 L903.9,912.4 L907.8,913.5 L911.7,914.5 L915.7,915.5 L919.6,916.5 L923.5,917.5 L927.4,918.5 L931.3,919.5 L935.2,920.5 L939.2,921.4 L943.1,922.4 L947,923.3 L950.9,924.3 L954.8,925.2 L958.7,926.1 L962.7,927 L966.6,927.9 L970.5,928.8 L974.4,929.6 L978.3,930.5 L982.2,931.3 L986.2,932.2 L990.1,933 L994,933.8 L997.9,934.6 L1001.8,935.4 L1005.7,936.2 L1009.7,937 L1013.6,937.8 L1017.5,938.5 L1021.4,939.3 L1025.3,940 L1029.2,940.8 L1033.2,941.5 L1037.1,942.2 L1041,942.9 L1044.9,943.6 L1048.8,944.3 L1052.7,945 L1056.7,945.7 L1060.6,946.3 L1064.5,947 L1068.4,947.7 L1072.3,948.3 L1076.2,948.9 L1080.2,949.6 L1084.1,950.2 L1088,950.8 L1091.9,951.4 L1095.8,952 L1099.7,952.6 L1103.7,953.2 L1107.6,953.7 L1111.5,954.3 L1115.4,954.9 L1119.3,955.4 L1123.2,956 L1127.2,956.5 L1131.1,957 L1135,957.6 L1138.9,958.1 L1142.8,958.6 L1146.7,959.1 L1150.7,959.6 L1154.6,960.1 L1158.5,960.6 L1162.4,961 L1166.3,961.5 L1170.2,962 L1174.2,962.4 L1178.1,962.9 L1182,963.3 L1185.9,963.8 L1189.8,964.2 L1193.7,964.6 L1197.7,965.1 L1201.6,965.5 L1205.5,965.9 L1209.4,966.3 L1213.3,966.7 L1217.2,967.1 L1221.2,967.5 L1225.1,967.8 L1229,968.2 L1232.9,968.6 L1236.8,968.9 L1240.7,969.3 L1244.7,969.7 L1248.6,970 L1252.5,970.3 L1256.4,970.7 L1260.3,971 L1264.2,971.3 L1268.2,971.7 L1272.1,972 L1276,972.3" stroke="#d62728" stroke-width="4.6" fill="none" stroke-linejoin="round"/><path d="M692.4,835.4 L696.3,834.7 L700.2,834 L704.2,833.3 L708.1,832.5 L712,831.8 L715.9,831.1 L719.8,830.4 L723.7,829.7 L727.7,829 L731.6,828.2 L735.5,827.5 L739.4,826.8 L743.3,826.1 L747.2,825.4 L751.2,824.7 L755.1,824 L759,823.2 L762.9,822.5 L766.8,821.8 L770.7,821.1 L774.7,820.4 L778.6,819.7 L782.5,818.9 L786.4,818.2 L790.3,817.5 L794.2,816.8 L798.2,816.1 L802.1,815.4 L806,814.6 L809.9,813.9 L813.8,813.2 L817.7,812.5 L821.7,811.8 L825.6,811.1 L829.5,810.4 L833.4,809.6 L837.3,808.9 L841.2,808.2 L845.2,807.5 L849.1,806.8 L853,806.1 L856.9,805.3 L860.8,804.6 L864.7,803.9 L868.7,803.2 L872.6,802.5 L876.5,801.8 L880.4,801.1 L884.3,800.3 L888.2,799.6 L892.2,798.9 L896.1,798.2 L900,797.5 L903.9,796.8 L907.8,796 L911.7,795.3 L915.7,794.6 L919.6,793.9 L923.5,793.2 L927.4,792.5 L931.3,791.7 L935.2,791 L939.2,790.3 L943.1,789.6 L947,788.9 L950.9,788.2 L954.8,787.5 L958.7,786.7 L962.7,786 L966.6,785.3 L970.5,784.6 L974.4,783.9 L978.3,783.2 L982.2,782.4 L986.2,781.7 L990.1,781 L994,780.3 L997.9,779.6 L1001.8,778.9 L1005.7,778.2 L1009.7,777.4 L1013.6,776.7 L1017.5,776 L1021.4,775.3 L1025.3,774.6 L1029.2,773.9 L1033.2,773.1 L1037.1,772.4 L1041,771.7 L1044.9,771 L1048.8,770.3 L1052.7,769.6 L1056.7,768.8 L1060.6,768.1 L1064.5,767.4 L1068.4,766.7 L1072.3,766 L1076.2,765.3 L1080.2,764.6 L1084.1,763.8 L1088,763.1 L1091.9,762.4 L1095.8,761.7 L1099.7,761 L1103.7,760.3 L1107.6,759.5 L1111.5,758.8 L1115.4,758.1 L1119.3,757.4 L1123.2,756.7 L1127.2,756 L1131.1,755.3 L1135,754.5 L1138.9,753.8 L1142.8,753.1 L1146.7,752.4 L1150.7,751.7 L1154.6,751 L1158.5,750.2 L1162.4,749.5 L1166.3,748.8 L1170.2,748.1 L1174.2,747.4 L1178.1,746.7 L1182,746 L1185.9,745.2 L1189.8,744.5 L1193.7,743.8 L1197.7,743.1 L1201.6,742.4 L1205.5,741.7 L1209.4,740.9 L1213.3,740.2 L1217.2,739.5 L1221.2,738.8 L1225.1,738.1 L1229,737.4 L1232.9,736.6 L1236.8,735.9 L1240.7,735.2 L1244.7,734.5 L1248.6,733.8 L1252.5,733.1 L1256.4,732.4 L1260.3,731.6 L1264.2,730.9 L1268.2,730.2 L1272.1,729.5 L1276,728.8" stroke="#1a7f3c" stroke-width="4.6" fill="none" stroke-dasharray="17.7 17.7" stroke-dashoffset="511.9" /><path d="M692.4,835.4 L696,838.2 L699.6,841 L703.3,843.7 L706.9,846.4 L710.5,849.1 L714.1,851.8 L717.8,854.4 L721.4,857 L725,859.6 L728.6,862.2 L732.3,864.7 L735.9,867.3 L739.5,869.8 L743.1,872.3 L746.8,874.7 L750.4,877.2 L754,879.6 L757.6,882 L761.3,884.4 L764.9,886.7 L768.5,889 L772.1,891.4 L775.8,893.6 L779.4,895.9 L783,898.2 L786.6,900.4 L790.3,902.6 L793.9,904.8 L797.5,907 L801.1,909.1 L804.8,911.3 L808.4,913.4 L812,915.5 L815.6,917.6 L819.3,919.6 L822.9,921.7 L826.5,923.7 L830.1,925.7 L833.8,927.7 L837.4,929.7 L841,931.6 L844.6,933.6 L848.3,935.5 L851.9,937.4 L855.5,939.3 L859.1,941.2 L862.8,943 L866.4,944.9 L870,946.7 L873.6,948.5 L877.3,950.3 L880.9,952.1 L884.5,953.8 L888.1,955.6 L891.8,957.3 L895.4,959 L899,960.7 L902.6,962.4 L906.3,964.1 L909.9,965.8 L913.5,967.4 L917.1,969 L920.8,970.7 L924.4,972.3 L928,973.9 L931.6,975.4 L935.3,977 L938.9,978.6 L942.5,980.1 L946.1,981.6 L949.8,983.1 L953.4,984.6 L957,986.1 L960.6,987.6 L964.3,989 L967.9,990.5 L971.5,991.9 L975.1,993.4 L978.8,994.8 L982.4,996.2 L986,997.6 L989.6,998.9 L993.3,1000.3 L996.9,1001.7 L1000.5,1003 L1004.1,1004.3 L1007.8,1005.7 L1011.4,1007 L1015,1008.3 L1018.6,1009.6 L1022.3,1010.8 L1025.9,1012.1 L1029.5,1013.4 L1033.1,1014.6 L1036.8,1015.9 L1040.4,1017.1 L1044,1018.3 L1047.6,1019.5 L1051.3,1020.7 L1054.9,1021.9 L1058.5,1023.1 L1062.1,1024.2 L1065.8,1025.4 L1069.4,1026.5 L1073,1027.7 L1076.6,1028.8 L1080.3,1029.9 L1083.9,1031 L1087.5,1032.2 L1091.1,1033.2 L1094.8,1034.3 L1098.4,1035.4 L1102,1036.5 L1105.6,1037.5 L1109.3,1038.6 L1112.9,1039.6 L1116.5,1040.7 L1120.1,1041.7 L1123.8,1042.7 L1127.4,1043.7 L1131,1044.7 L1134.6,1045.7 L1138.3,1046.7 L1141.9,1047.7 L1145.5,1048.7 L1149.1,1049.6 L1152.8,1050.6 L1156.4,1051.5 L1160,1052.5" stroke="#2d4e9c" stroke-width="4.6" fill="none" stroke-dasharray="17.7 17.7" stroke-dashoffset="511.9" /><path d="M180.5,835.4H693.4" stroke="#d62728" stroke-width="4.6"/></g><path d="M253.4,1030.4v-10.5 M253.4,565.8v10.5 M326.2,1030.4v-10.5 M326.2,565.8v10.5 M399.1,1030.4v-10.5 M399.1,565.8v10.5 M471.9,1030.4v-10.5 M471.9,565.8v10.5 M544.8,1030.4v-10.5 M544.8,565.8v10.5 M617.7,1030.4v-10.5 M617.7,565.8v10.5 M690.5,1030.4v-10.5 M690.5,565.8v10.5 M763.4,1030.4v-10.5 M763.4,565.8v10.5 M836.2,1030.4v-10.5 M836.2,565.8v10.5 M909.1,1030.4v-10.5 M909.1,565.8v10.5 M982,1030.4v-10.5 M982,565.8v10.5 M1054.8,1030.4v-10.5 M1054.8,565.8v10.5 M1127.7,1030.4v-10.5 M1127.7,565.8v10.5 M1200.5,1030.4v-10.5 M1200.5,565.8v10.5 M180.8,637.3h10.5 M1273.3,637.3h-10.5 M180.8,708.8h10.5 M1273.3,708.8h-10.5 M180.8,780.2h10.5 M1273.3,780.2h-10.5 M180.8,851.7h10.5 M1273.3,851.7h-10.5 M180.8,923.2h10.5 M1273.3,923.2h-10.5 M180.8,994.7h10.5 M1273.3,994.7h-10.5" stroke="#2a2a2a" stroke-width="1.6" fill="none"/><rect x="180.8" y="565.8" width="1092.5" height="464.6" fill="none" stroke="#141414" stroke-width="2.8"/><text x="168.6" y="576.1" font-size="30" text-anchor="end">−46.7</text><text x="168.6" y="647.6" font-size="30" text-anchor="end">−46.8</text><text x="168.6" y="719.1" font-size="30" text-anchor="end">−46.9</text><text x="168.6" y="790.5" font-size="30" text-anchor="end">−47.0</text><text x="168.6" y="862" font-size="30" text-anchor="end">−47.1</text><text x="168.6" y="933.5" font-size="30" text-anchor="end">−47.2</text><text x="168.6" y="1005" font-size="30" text-anchor="end">−47.3</text><g clip-path="url(#clipc)"><path d="M763.4,1375 L767.4,1375.2 L771.3,1375.3 L775.3,1375.4 L779.3,1375.6 L783.3,1375.7 L787.2,1375.9 L791.2,1376 L795.2,1376.2 L799.2,1376.3 L803.1,1376.4 L807.1,1376.6 L811.1,1376.7 L815.1,1376.9 L819,1377 L823,1377.1 L827,1377.3 L831,1377.4 L834.9,1377.5 L838.9,1377.6 L842.9,1377.8 L846.8,1377.9 L850.8,1378 L854.8,1378.1 L858.8,1378.3 L862.7,1378.4 L866.7,1378.5 L870.7,1378.6 L874.7,1378.7 L878.6,1378.8 L882.6,1379 L886.6,1379.2 L890.6,1379.4 L894.5,1379.6 L898.5,1379.8 L902.5,1380 L906.5,1380.2 L910.4,1380.4 L914.4,1380.5 L918.4,1380.7 L922.3,1380.9 L926.3,1381.1 L930.3,1381.3 L934.3,1381.5 L938.2,1381.6 L942.2,1381.8 L946.2,1382 L950.2,1382.2 L954.1,1382.3 L958.1,1382.5 L962.1,1382.7 L966.1,1382.9 L970,1383 L974,1383.2 L978,1383.4 L982,1383.5 L985.9,1383.7 L989.9,1383.9 L993.9,1384 L997.8,1384.2 L1001.8,1384.3 L1005.8,1384.5 L1009.8,1384.7 L1013.7,1384.8 L1017.7,1385 L1021.7,1385.1 L1025.7,1385.3 L1029.6,1385.4 L1033.6,1385.5 L1037.6,1385.7 L1041.6,1385.8 L1045.5,1386 L1049.5,1386.1 L1053.5,1386.2 L1057.4,1386.4 L1061.4,1386.5 L1065.4,1386.6 L1069.4,1386.8 L1073.3,1386.9 L1077.3,1387 L1081.3,1387.2 L1085.3,1387.3 L1089.2,1387.4 L1093.2,1387.5 L1097.2,1387.7 L1101.2,1387.8 L1105.1,1387.9 L1109.1,1388 L1113.1,1388.1 L1117.1,1388.2 L1121,1388.4 L1125,1388.5 L1129,1388.6 L1132.9,1388.7 L1136.9,1388.8 L1140.9,1388.9 L1144.9,1389 L1148.8,1389.1 L1152.8,1389.2 L1156.8,1389.3 L1160.8,1389.4 L1164.7,1389.6 L1168.7,1389.8 L1172.7,1390 L1176.7,1390.2 L1180.6,1390.3 L1184.6,1390.5 L1188.6,1390.7 L1192.6,1390.9 L1196.5,1391 L1200.5,1391.2 L1204.5,1391.4 L1208.4,1391.5 L1212.4,1391.7 L1216.4,1391.9 L1220.4,1392 L1224.3,1392.2 L1228.3,1392.3 L1232.3,1392.5 L1236.3,1392.7 L1240.2,1392.8 L1244.2,1393 L1248.2,1393.1 L1252.2,1393.3 L1256.1,1393.4 L1260.1,1393.6 L1264.1,1393.7 L1268.1,1393.9 L1272,1394 L1276,1394.2 L1276,1433.6 L1272,1433.3 L1268.1,1433 L1264.1,1432.7 L1260.1,1432.4 L1256.1,1432.1 L1252.2,1431.8 L1248.2,1431.5 L1244.2,1431.2 L1240.2,1430.9 L1236.3,1430.6 L1232.3,1430.3 L1228.3,1430 L1224.3,1429.7 L1220.4,1429.4 L1216.4,1429.1 L1212.4,1428.8 L1208.4,1428.5 L1204.5,1428.2 L1200.5,1427.8 L1196.5,1427.5 L1192.6,1427.2 L1188.6,1426.9 L1184.6,1426.6 L1180.6,1426.2 L1176.7,1425.9 L1172.7,1425.6 L1168.7,1425.3 L1164.7,1424.9 L1160.8,1424.6 L1156.8,1424.2 L1152.8,1423.8 L1148.8,1423.4 L1144.9,1423 L1140.9,1422.6 L1136.9,1422.2 L1132.9,1421.7 L1129,1421.3 L1125,1420.9 L1121,1420.5 L1117.1,1420 L1113.1,1419.6 L1109.1,1419.2 L1105.1,1418.8 L1101.2,1418.3 L1097.2,1417.9 L1093.2,1417.5 L1089.2,1417.1 L1085.3,1416.6 L1081.3,1416.2 L1077.3,1415.7 L1073.3,1415.3 L1069.4,1414.9 L1065.4,1414.4 L1061.4,1414 L1057.4,1413.5 L1053.5,1413.1 L1049.5,1412.7 L1045.5,1412.2 L1041.6,1411.8 L1037.6,1411.3 L1033.6,1410.9 L1029.6,1410.4 L1025.7,1410 L1021.7,1409.5 L1017.7,1409 L1013.7,1408.6 L1009.8,1408.1 L1005.8,1407.7 L1001.8,1407.2 L997.8,1406.8 L993.9,1406.3 L989.9,1405.9 L985.9,1405.4 L982,1404.9 L978,1404.5 L974,1404 L970,1403.5 L966.1,1403.1 L962.1,1402.6 L958.1,1402.1 L954.1,1401.7 L950.2,1401.2 L946.2,1400.7 L942.2,1400.2 L938.2,1399.8 L934.3,1399.3 L930.3,1398.8 L926.3,1398.3 L922.3,1397.8 L918.4,1397.4 L914.4,1396.9 L910.4,1396.4 L906.5,1395.9 L902.5,1395.4 L898.5,1394.9 L894.5,1394.4 L890.6,1393.9 L886.6,1393.5 L882.6,1393 L878.6,1392.4 L874.7,1391.8 L870.7,1391.3 L866.7,1390.7 L862.7,1390.1 L858.8,1389.5 L854.8,1388.9 L850.8,1388.3 L846.8,1387.7 L842.9,1387.1 L838.9,1386.5 L834.9,1385.9 L831,1385.4 L827,1384.8 L823,1384.2 L819,1383.6 L815.1,1383 L811.1,1382.3 L807.1,1381.7 L803.1,1381.1 L799.2,1380.5 L795.2,1379.9 L791.2,1379.3 L787.2,1378.7 L783.3,1378.1 L779.3,1377.5 L775.3,1376.9 L771.3,1376.2 L767.4,1375.6 L763.4,1375Z" fill="#bdbdbb"/><path d="M763.4,1375 L767.4,1375.4 L771.3,1375.7 L775.3,1376.1 L779.3,1376.5 L783.3,1376.8 L787.2,1377.2 L791.2,1377.5 L795.2,1377.9 L799.2,1378.2 L803.1,1378.6 L807.1,1378.9 L811.1,1379.2 L815.1,1379.6 L819,1379.9 L823,1380.2 L827,1380.5 L831,1380.9 L834.9,1381.2 L838.9,1381.5 L842.9,1381.8 L846.8,1382.1 L850.8,1382.4 L854.8,1382.7 L858.8,1383 L862.7,1383.3 L866.7,1383.6 L870.7,1383.9 L874.7,1384.2 L878.6,1384.4 L882.6,1384.8 L886.6,1385.1 L890.6,1385.5 L894.5,1385.8 L898.5,1386.1 L902.5,1386.5 L906.5,1386.8 L910.4,1387.1 L914.4,1387.5 L918.4,1387.8 L922.3,1388.1 L926.3,1388.4 L930.3,1388.7 L934.3,1389.1 L938.2,1389.4 L942.2,1389.7 L946.2,1390 L950.2,1390.3 L954.1,1390.6 L958.1,1390.9 L962.1,1391.2 L966.1,1391.5 L970,1391.8 L974,1392.1 L978,1392.4 L982,1392.6 L985.9,1392.9 L989.9,1393.2 L993.9,1393.5 L997.8,1393.8 L1001.8,1394 L1005.8,1394.3 L1009.8,1394.6 L1013.7,1394.8 L1017.7,1395.1 L1021.7,1395.4 L1025.7,1395.7 L1029.6,1396 L1033.6,1396.3 L1037.6,1396.6 L1041.6,1396.9 L1045.5,1397.2 L1049.5,1397.5 L1053.5,1397.8 L1057.4,1398.1 L1061.4,1398.4 L1065.4,1398.7 L1069.4,1399 L1073.3,1399.3 L1077.3,1399.5 L1081.3,1399.8 L1085.3,1400.1 L1089.2,1400.4 L1093.2,1400.7 L1097.2,1400.9 L1101.2,1401.2 L1105.1,1401.5 L1109.1,1401.7 L1113.1,1402 L1117.1,1402.3 L1121,1402.5 L1125,1402.8 L1129,1403.1 L1132.9,1403.3 L1136.9,1403.6 L1140.9,1403.8 L1144.9,1404.1 L1148.8,1404.3 L1152.8,1404.6 L1156.8,1404.8 L1160.8,1405.1 L1164.7,1405.3 L1168.7,1405.6 L1172.7,1405.8 L1176.7,1406 L1180.6,1406.3 L1184.6,1406.5 L1188.6,1406.7 L1192.6,1407 L1196.5,1407.2 L1200.5,1407.4 L1204.5,1407.7 L1208.4,1407.9 L1212.4,1408.1 L1216.4,1408.3 L1220.4,1408.5 L1224.3,1408.8 L1228.3,1409 L1232.3,1409.2 L1236.3,1409.4 L1240.2,1409.6 L1244.2,1409.8 L1248.2,1410.1 L1252.2,1410.3 L1256.1,1410.5 L1260.1,1410.7 L1264.1,1410.9 L1268.1,1411.1 L1272,1411.3 L1276,1411.6 L1276,1466.8 L1272,1466.4 L1268.1,1465.8 L1264.1,1465.2 L1260.1,1464.7 L1256.1,1464.1 L1252.2,1463.5 L1248.2,1463 L1244.2,1462.4 L1240.2,1461.8 L1236.3,1461.2 L1232.3,1460.7 L1228.3,1460.1 L1224.3,1459.5 L1220.4,1458.9 L1216.4,1458.4 L1212.4,1457.8 L1208.4,1457.2 L1204.5,1456.6 L1200.5,1456 L1196.5,1455.4 L1192.6,1454.9 L1188.6,1454.3 L1184.6,1453.7 L1180.6,1453.1 L1176.7,1452.5 L1172.7,1451.9 L1168.7,1451.3 L1164.7,1450.7 L1160.8,1450.1 L1156.8,1449.5 L1152.8,1448.9 L1148.8,1448.3 L1144.9,1447.7 L1140.9,1447.1 L1136.9,1446.5 L1132.9,1445.9 L1129,1445.3 L1125,1444.7 L1121,1444 L1117.1,1443.4 L1113.1,1442.8 L1109.1,1442.2 L1105.1,1441.6 L1101.2,1441 L1097.2,1440.3 L1093.2,1439.7 L1089.2,1439.1 L1085.3,1438.4 L1081.3,1437.8 L1077.3,1437.2 L1073.3,1436.5 L1069.4,1435.9 L1065.4,1435.3 L1061.4,1434.6 L1057.4,1434 L1053.5,1433.3 L1049.5,1432.7 L1045.5,1432.1 L1041.6,1431.4 L1037.6,1430.8 L1033.6,1430.1 L1029.6,1429.4 L1025.7,1428.8 L1021.7,1428.1 L1017.7,1427.4 L1013.7,1426.7 L1009.8,1426 L1005.8,1425.3 L1001.8,1424.6 L997.8,1423.9 L993.9,1423.1 L989.9,1422.4 L985.9,1421.7 L982,1421 L978,1420.2 L974,1419.5 L970,1418.8 L966.1,1418 L962.1,1417.3 L958.1,1416.5 L954.1,1415.8 L950.2,1415.1 L946.2,1414.3 L942.2,1413.6 L938.2,1412.8 L934.3,1412.1 L930.3,1411.3 L926.3,1410.5 L922.3,1409.8 L918.4,1409 L914.4,1408.2 L910.4,1407.5 L906.5,1406.7 L902.5,1405.9 L898.5,1405.1 L894.5,1404.4 L890.6,1403.6 L886.6,1402.8 L882.6,1402 L878.6,1401.2 L874.7,1400.3 L870.7,1399.5 L866.7,1398.6 L862.7,1397.7 L858.8,1396.8 L854.8,1396 L850.8,1395.1 L846.8,1394.2 L842.9,1393.3 L838.9,1392.4 L834.9,1391.5 L831,1390.7 L827,1389.8 L823,1388.9 L819,1388 L815.1,1387.1 L811.1,1386.1 L807.1,1385.2 L803.1,1384.3 L799.2,1383.4 L795.2,1382.5 L791.2,1381.6 L787.2,1380.6 L783.3,1379.7 L779.3,1378.8 L775.3,1377.8 L771.3,1376.9 L767.4,1375.9 L763.4,1375Z" fill="#7f7f7f"/><path d="M692,1375H766" stroke="#959595" stroke-width="3.2"/><path d="M692,1375 L763.4,1375 L767.4,1375.7 L771.3,1376.3 L775.3,1377 L779.3,1377.6 L783.3,1378.3 L787.2,1378.9 L791.2,1379.5 L795.2,1380.2 L799.2,1380.8 L803.1,1381.4 L807.1,1382.1 L811.1,1382.7 L815.1,1383.3 L819,1383.9 L823,1384.5 L827,1385.1 L831,1385.8 L834.9,1386.4 L838.9,1387 L842.9,1387.6 L846.8,1388.2 L850.8,1388.7 L854.8,1389.3 L858.8,1389.9 L862.7,1390.5 L866.7,1391.1 L870.7,1391.7 L874.7,1392.2 L878.6,1392.8 L882.6,1393.4 L886.6,1394 L890.6,1394.5 L894.5,1395.1 L898.5,1395.6 L902.5,1396.2 L906.5,1396.7 L910.4,1397.3 L914.4,1397.8 L918.4,1398.4 L922.3,1398.9 L926.3,1399.5 L930.3,1400 L934.3,1400.6 L938.2,1401.1 L942.2,1401.6 L946.2,1402.1 L950.2,1402.7 L954.1,1403.2 L958.1,1403.7 L962.1,1404.2 L966.1,1404.8 L970,1405.3 L974,1405.8 L978,1406.3 L982,1406.8 L985.9,1407.3 L989.9,1407.8 L993.9,1408.3 L997.8,1408.8 L1001.8,1409.3 L1005.8,1409.8 L1009.8,1410.3 L1013.7,1410.8 L1017.7,1411.3 L1021.7,1411.8 L1025.7,1412.2 L1029.6,1412.7 L1033.6,1413.2 L1037.6,1413.7 L1041.6,1414.2 L1045.5,1414.6 L1049.5,1415.1 L1053.5,1415.6 L1057.4,1416 L1061.4,1416.5 L1065.4,1417 L1069.4,1417.4 L1073.3,1417.9 L1077.3,1418.4 L1081.3,1418.8 L1085.3,1419.3 L1089.2,1419.7 L1093.2,1420.2 L1097.2,1420.6 L1101.2,1421.1 L1105.1,1421.5 L1109.1,1422 L1113.1,1422.4 L1117.1,1422.8 L1121,1423.3 L1125,1423.7 L1129,1424.2 L1132.9,1424.6 L1136.9,1425 L1140.9,1425.5 L1144.9,1425.9 L1148.8,1426.3 L1152.8,1426.7 L1156.8,1427.2 L1160.8,1427.6 L1164.7,1428 L1168.7,1428.4 L1172.7,1428.8 L1176.7,1429.3 L1180.6,1429.7 L1184.6,1430.1 L1188.6,1430.5 L1192.6,1430.9 L1196.5,1431.3 L1200.5,1431.7 L1204.5,1432.1 L1208.4,1432.5 L1212.4,1432.9 L1216.4,1433.3 L1220.4,1433.7 L1224.3,1434.1 L1228.3,1434.5 L1232.3,1434.9 L1236.3,1435.3 L1240.2,1435.7 L1244.2,1436.1 L1248.2,1436.5 L1252.2,1436.9 L1256.1,1437.3 L1260.1,1437.7 L1264.1,1438.1 L1268.1,1438.4 L1272,1438.8 L1276,1439.2" stroke="#0d0d0d" stroke-width="4.6" fill="none" stroke-dasharray="17.7 17.7" stroke-dashoffset="511.5" /><path d="M692,1375 L763.4,1375 L767.4,1375.4 L771.3,1375.8 L775.3,1376.2 L779.3,1376.5 L783.3,1376.9 L787.2,1377.3 L791.2,1377.7 L795.2,1378 L799.2,1378.4 L803.1,1378.8 L807.1,1379.2 L811.1,1379.5 L815.1,1379.9 L819,1380.3 L823,1380.6 L827,1381 L831,1381.4 L834.9,1381.7 L838.9,1382.1 L842.9,1382.5 L846.8,1382.8 L850.8,1383.2 L854.8,1383.5 L858.8,1383.9 L862.7,1384.2 L866.7,1384.6 L870.7,1384.9 L874.7,1385.3 L878.6,1385.6 L882.6,1386 L886.6,1386.3 L890.6,1386.7 L894.5,1387 L898.5,1387.4 L902.5,1387.7 L906.5,1388 L910.4,1388.4 L914.4,1388.7 L918.4,1389 L922.3,1389.4 L926.3,1389.7 L930.3,1390 L934.3,1390.4 L938.2,1390.7 L942.2,1391 L946.2,1391.4 L950.2,1391.7 L954.1,1392 L958.1,1392.3 L962.1,1392.6 L966.1,1393 L970,1393.3 L974,1393.6 L978,1393.9 L982,1394.2 L985.9,1394.5 L989.9,1394.9 L993.9,1395.2 L997.8,1395.5 L1001.8,1395.8 L1005.8,1396.1 L1009.8,1396.4 L1013.7,1396.7 L1017.7,1397 L1021.7,1397.3 L1025.7,1397.6 L1029.6,1397.9 L1033.6,1398.2 L1037.6,1398.5 L1041.6,1398.8 L1045.5,1399.1 L1049.5,1399.4 L1053.5,1399.7 L1057.4,1400 L1061.4,1400.2 L1065.4,1400.5 L1069.4,1400.8 L1073.3,1401.1 L1077.3,1401.4 L1081.3,1401.7 L1085.3,1402 L1089.2,1402.2 L1093.2,1402.5 L1097.2,1402.8 L1101.2,1403.1 L1105.1,1403.3 L1109.1,1403.6 L1113.1,1403.9 L1117.1,1404.1 L1121,1404.4 L1125,1404.7 L1129,1404.9 L1132.9,1405.2 L1136.9,1405.5 L1140.9,1405.7 L1144.9,1406 L1148.8,1406.3 L1152.8,1406.5 L1156.8,1406.8 L1160.8,1407 L1164.7,1407.3 L1168.7,1407.5 L1172.7,1407.8 L1176.7,1408 L1180.6,1408.3 L1184.6,1408.5 L1188.6,1408.8 L1192.6,1409 L1196.5,1409.3 L1200.5,1409.5 L1204.5,1409.8 L1208.4,1410 L1212.4,1410.2 L1216.4,1410.5 L1220.4,1410.7 L1224.3,1410.9 L1228.3,1411.2 L1232.3,1411.4 L1236.3,1411.6 L1240.2,1411.9 L1244.2,1412.1 L1248.2,1412.3 L1252.2,1412.6 L1256.1,1412.8 L1260.1,1413 L1264.1,1413.2 L1268.1,1413.4 L1272,1413.7 L1276,1413.9" stroke="#818181" stroke-width="4.6" fill="none" stroke-dasharray="17.7 17.7" stroke-dashoffset="511.5" /><g fill="#111"><circle cx="219.8" cy="1398.6" r="5"/><circle cx="226" cy="1402" r="5"/><circle cx="232.2" cy="1402.7" r="5"/><circle cx="238.4" cy="1399.9" r="5"/><circle cx="244.6" cy="1396.7" r="5"/><circle cx="250.8" cy="1393.6" r="5"/><circle cx="257" cy="1390.4" r="5"/><circle cx="329" cy="1386.6" r="5"/><circle cx="335.1" cy="1383.6" r="5"/><circle cx="341.2" cy="1383.2" r="5"/><circle cx="347.2" cy="1385.1" r="5"/><circle cx="353.3" cy="1387.6" r="5"/><circle cx="359.4" cy="1389.8" r="5"/><circle cx="365.5" cy="1384.4" r="5"/><circle cx="371.6" cy="1382.5" r="5"/><circle cx="377.7" cy="1381.6" r="5"/><circle cx="383.8" cy="1382.7" r="5"/><circle cx="389.8" cy="1384.5" r="5"/><circle cx="395.9" cy="1383.5" r="5"/><circle cx="402" cy="1381" r="5"/><circle cx="408.1" cy="1377.8" r="5"/><circle cx="414.2" cy="1373.9" r="5"/><circle cx="420.2" cy="1371.2" r="5"/><circle cx="426.3" cy="1370.1" r="5"/><circle cx="432.4" cy="1369" r="5"/><circle cx="438.5" cy="1367.4" r="5"/><circle cx="444.6" cy="1364.3" r="5"/><circle cx="450.7" cy="1360.5" r="5"/><circle cx="456.8" cy="1356.7" r="5"/><circle cx="462.8" cy="1353.6" r="5"/><circle cx="468.9" cy="1352.2" r="5"/><circle cx="475" cy="1351.6" r="5"/><circle cx="481.1" cy="1352" r="5"/><circle cx="487.2" cy="1352.7" r="5"/><circle cx="493.2" cy="1353.4" r="5"/><circle cx="499.3" cy="1353.2" r="5"/><circle cx="505.4" cy="1352.2" r="5"/><circle cx="511.5" cy="1349.8" r="5"/><circle cx="517.6" cy="1347.4" r="5"/><circle cx="523.7" cy="1346.8" r="5"/><circle cx="529.8" cy="1349.2" r="5"/><circle cx="535.8" cy="1355.2" r="5"/><circle cx="541.9" cy="1360.6" r="5"/><circle cx="548" cy="1366.9" r="5"/><circle cx="554.1" cy="1366" r="5"/><circle cx="560.2" cy="1362.7" r="5"/><circle cx="566.2" cy="1359.4" r="5"/><circle cx="572.3" cy="1357.7" r="5"/><circle cx="578.4" cy="1357.2" r="5"/><circle cx="584.5" cy="1362.2" r="5"/><circle cx="626.5" cy="1368.7" r="5"/><circle cx="632.9" cy="1379.9" r="5"/><circle cx="639" cy="1384.8" r="5"/><circle cx="645" cy="1386.6" r="5"/><circle cx="651.1" cy="1385.5" r="5"/><circle cx="657.2" cy="1384.3" r="5"/><circle cx="663.3" cy="1383.9" r="5"/><circle cx="669.3" cy="1383.7" r="5"/><circle cx="675.4" cy="1383.6" r="5"/><circle cx="681.5" cy="1383.6" r="5"/><circle cx="687.5" cy="1383.8" r="5"/><circle cx="693.6" cy="1384.1" r="5"/><circle cx="699.7" cy="1384.9" r="5"/><circle cx="705.8" cy="1385.6" r="5"/><circle cx="711.8" cy="1386.1" r="5"/><circle cx="717.9" cy="1386.6" r="5"/><circle cx="724" cy="1387.1" r="5"/><circle cx="730" cy="1387.4" r="5"/><circle cx="736.1" cy="1386.6" r="5"/><circle cx="742.2" cy="1384.8" r="5"/><circle cx="748.3" cy="1380.1" r="5"/><circle cx="754.3" cy="1372.4" r="5"/><circle cx="760.4" cy="1364.5" r="5"/><circle cx="766.5" cy="1358.6" r="5"/><circle cx="772.5" cy="1357.2" r="5"/><circle cx="778.6" cy="1356.8" r="5"/><circle cx="784.7" cy="1357.8" r="5"/><circle cx="790.8" cy="1359.1" r="5"/><circle cx="796.8" cy="1359.5" r="5"/><circle cx="802.9" cy="1360" r="5"/><circle cx="809" cy="1360.9" r="5"/><circle cx="815.1" cy="1363.1" r="5"/><circle cx="821.1" cy="1370.6" r="5"/><circle cx="827.2" cy="1380.8" r="5"/><circle cx="833.3" cy="1388.9" r="5"/><circle cx="839.3" cy="1400.3" r="5"/><circle cx="845.4" cy="1407.7" r="5"/><circle cx="851.5" cy="1411.5" r="5"/><circle cx="857.6" cy="1414" r="5"/><circle cx="863.6" cy="1416.4" r="5"/><circle cx="869.7" cy="1418.5" r="5"/><circle cx="875.8" cy="1420.7" r="5"/><circle cx="881.8" cy="1423.3" r="5"/><circle cx="887.9" cy="1426.2" r="5"/><circle cx="894" cy="1429.5" r="5"/><circle cx="900.1" cy="1433" r="5"/><circle cx="906.1" cy="1436.4" r="5"/><circle cx="912.2" cy="1439.6" r="5"/><circle cx="918.3" cy="1442.7" r="5"/><circle cx="924.3" cy="1445.7" r="5"/><circle cx="930.4" cy="1448.6" r="5"/><circle cx="936.5" cy="1451.3" r="5"/><circle cx="942.6" cy="1454" r="5"/><circle cx="948.6" cy="1456.8" r="5"/><circle cx="954.7" cy="1459.5" r="5"/><circle cx="960.8" cy="1462.3" r="5"/><circle cx="966.8" cy="1464.9" r="5"/><circle cx="972.9" cy="1467.5" r="5"/><circle cx="979" cy="1470.2" r="5"/><circle cx="985.1" cy="1473.2" r="5"/><circle cx="991.1" cy="1476.7" r="5"/><circle cx="997.2" cy="1481" r="5"/><circle cx="1003.3" cy="1485.2" r="5"/><circle cx="1009.3" cy="1489.2" r="5"/><circle cx="1015.4" cy="1492.9" r="5"/><circle cx="1021.5" cy="1495" r="5"/><circle cx="1027.6" cy="1496.3" r="5"/><circle cx="1033.6" cy="1497.1" r="5"/><circle cx="1039.7" cy="1496.9" r="5"/><circle cx="1045.8" cy="1495.3" r="5"/><circle cx="1051.8" cy="1493.1" r="5"/><circle cx="1057.9" cy="1490.3" r="5"/><circle cx="1064" cy="1486.8" r="5"/><circle cx="1070.1" cy="1483.5" r="5"/><circle cx="1076.1" cy="1480.2" r="5"/><circle cx="1082.2" cy="1477.6" r="5"/><circle cx="1088.3" cy="1476.9" r="5"/><circle cx="1094.4" cy="1476.7" r="5"/><circle cx="1100.4" cy="1476.6" r="5"/><circle cx="1106.5" cy="1478.9" r="5"/><circle cx="1112.6" cy="1483.2" r="5"/><circle cx="1118.6" cy="1486.9" r="5"/><circle cx="1124.7" cy="1488.2" r="5"/><circle cx="1130.8" cy="1489.1" r="5"/><circle cx="1136.9" cy="1489.7" r="5"/><circle cx="1142.9" cy="1489.9" r="5"/><circle cx="1149" cy="1489.2" r="5"/><circle cx="1155.1" cy="1488" r="5"/><circle cx="1161.1" cy="1487.2" r="5"/><circle cx="1167.2" cy="1487.1" r="5"/><circle cx="1173.3" cy="1487.3" r="5"/><circle cx="1179.4" cy="1487.6" r="5"/><circle cx="1185.4" cy="1487.9" r="5"/><circle cx="1191.5" cy="1489" r="5"/><circle cx="1197.6" cy="1490.6" r="5"/><circle cx="1203.6" cy="1492.4" r="5"/><circle cx="1209.7" cy="1494" r="5"/><circle cx="1215.8" cy="1495.7" r="5"/><circle cx="1221.9" cy="1497.6" r="5"/><circle cx="1227.9" cy="1499.8" r="5"/><circle cx="1234" cy="1502.5" r="5"/></g><path d="M692.4,1377.5 L695.9,1378.9 L699.3,1380.3 L702.8,1381.6 L706.2,1383 L709.7,1384.3 L713.1,1385.6 L716.6,1386.9 L720,1388.2 L723.5,1389.5 L726.9,1390.8 L730.4,1392.1 L733.8,1393.3 L737.3,1394.6 L740.7,1395.8 L744.2,1397 L747.7,1398.3 L751.1,1399.5 L754.6,1400.7 L758,1401.8 L761.5,1403 L764.9,1404.2 L768.4,1405.3 L771.8,1406.5 L775.3,1407.6 L778.7,1408.7 L782.2,1409.8 L785.6,1410.9 L789.1,1412 L792.5,1413.1 L796,1414.2 L799.5,1415.2 L802.9,1416.3 L806.4,1417.3 L809.8,1418.3 L813.3,1419.4 L816.7,1420.4 L820.2,1421.4 L823.6,1422.4 L827.1,1423.4 L830.5,1424.3 L834,1425.3 L837.4,1426.3 L840.9,1427.2 L844.3,1428.1 L847.8,1429.1 L851.2,1430 L854.7,1430.9 L858.2,1431.8 L861.6,1432.7 L865.1,1433.6 L868.5,1434.5 L872,1435.3 L875.4,1436.2 L878.9,1437 L882.3,1437.9 L885.8,1438.7 L889.2,1439.5 L892.7,1440.4 L896.1,1441.2 L899.6,1442 L903,1442.8 L906.5,1443.5 L910,1444.3 L913.4,1445.1 L916.9,1445.8 L920.3,1446.6 L923.8,1447.3 L927.2,1448.1 L930.7,1448.8 L934.1,1449.5 L937.6,1450.2 L941,1450.9 L944.5,1451.6 L947.9,1452.3 L951.4,1453 L954.8,1453.7 L958.3,1454.3 L961.8,1455 L965.2,1455.7 L968.7,1456.3 L972.1,1456.9 L975.6,1457.6 L979,1458.2 L982.5,1458.8 L985.9,1459.4 L989.4,1460 L992.8,1460.6 L996.3,1461.2 L999.7,1461.8 L1003.2,1462.4 L1006.6,1462.9 L1010.1,1463.5 L1013.6,1464 L1017,1464.6 L1020.5,1465.1 L1023.9,1465.7 L1027.4,1466.2 L1030.8,1466.7 L1034.3,1467.2 L1037.7,1467.7 L1041.2,1468.2 L1044.6,1468.7 L1048.1,1469.2 L1051.5,1469.7 L1055,1470.2 L1058.4,1470.6 L1061.9,1471.1 L1065.4,1471.6 L1068.8,1472 L1072.3,1472.5 L1075.7,1472.9 L1079.2,1473.3 L1082.6,1473.8 L1086.1,1474.2 L1089.5,1474.6 L1093,1475 L1096.4,1475.4 L1099.9,1475.8 L1103.3,1476.2 L1106.8,1476.6 L1110.2,1477 L1113.7,1477.3 L1117.2,1477.7 L1120.6,1478.1 L1124.1,1478.4 L1127.5,1478.8 L1131,1479.1 L1134.4,1479.5 L1137.9,1479.8 L1141.3,1480.1 L1144.8,1480.4 L1148.2,1480.8 L1151.7,1481.1 L1155.1,1481.4 L1158.6,1481.7 L1162,1482 L1165.5,1482.3 L1168.9,1482.6 L1172.4,1482.8 L1175.9,1483.1 L1179.3,1483.4 L1182.8,1483.7 L1186.2,1483.9 L1189.7,1484.2 L1193.1,1484.4 L1196.6,1484.7 L1200,1484.9 L1203.5,1485.2 L1206.9,1485.4 L1210.4,1485.6 L1213.8,1485.9 L1217.3,1486.1 L1220.7,1486.3 L1224.2,1486.5 L1227.7,1486.7 L1231.1,1486.9 L1234.6,1487.1 L1238,1487.3 L1241.5,1487.5 L1244.9,1487.7 L1248.4,1487.8 L1251.8,1488 L1255.3,1488.2 L1258.7,1488.3 L1262.2,1488.5 L1265.6,1488.6 L1269.1,1488.8 L1272.5,1488.9 L1276,1489.1 L1276,1669.7 L1272.5,1668.9 L1269.1,1668 L1265.6,1667.2 L1262.2,1666.3 L1258.7,1665.4 L1255.3,1664.6 L1251.8,1663.7 L1248.4,1662.8 L1244.9,1661.9 L1241.5,1661 L1238,1660 L1234.6,1659.1 L1231.1,1658.2 L1227.7,1657.2 L1224.2,1656.3 L1220.7,1655.3 L1217.3,1654.3 L1213.8,1653.4 L1210.4,1652.4 L1206.9,1651.4 L1203.5,1650.4 L1200,1649.4 L1196.6,1648.4 L1193.1,1647.4 L1189.7,1646.3 L1186.2,1645.3 L1182.8,1644.2 L1179.3,1643.2 L1175.9,1642.1 L1172.4,1641 L1168.9,1640 L1165.5,1638.9 L1162,1637.8 L1158.6,1636.7 L1155.1,1635.5 L1151.7,1634.4 L1148.2,1633.3 L1144.8,1632.1 L1141.3,1631 L1137.9,1629.8 L1134.4,1628.7 L1131,1627.5 L1127.5,1626.3 L1124.1,1625.1 L1120.6,1623.9 L1117.2,1622.7 L1113.7,1621.4 L1110.2,1620.2 L1106.8,1618.9 L1103.3,1617.7 L1099.9,1616.4 L1096.4,1615.1 L1093,1613.9 L1089.5,1612.6 L1086.1,1611.3 L1082.6,1609.9 L1079.2,1608.6 L1075.7,1607.3 L1072.3,1605.9 L1068.8,1604.6 L1065.4,1603.2 L1061.9,1601.8 L1058.4,1600.4 L1055,1599 L1051.5,1597.6 L1048.1,1596.2 L1044.6,1594.8 L1041.2,1593.3 L1037.7,1591.9 L1034.3,1590.4 L1030.8,1588.9 L1027.4,1587.4 L1023.9,1585.9 L1020.5,1584.4 L1017,1582.9 L1013.6,1581.3 L1010.1,1579.8 L1006.6,1578.2 L1003.2,1576.7 L999.7,1575.1 L996.3,1573.5 L992.8,1571.9 L989.4,1570.3 L985.9,1568.6 L982.5,1567 L979,1565.3 L975.6,1563.7 L972.1,1562 L968.7,1560.3 L965.2,1558.6 L961.8,1556.9 L958.3,1555.1 L954.8,1553.4 L951.4,1551.6 L947.9,1549.8 L944.5,1548.1 L941,1546.3 L937.6,1544.5 L934.1,1542.6 L930.7,1540.8 L927.2,1538.9 L923.8,1537.1 L920.3,1535.2 L916.9,1533.3 L913.4,1531.4 L910,1529.5 L906.5,1527.5 L903,1525.6 L899.6,1523.6 L896.1,1521.6 L892.7,1519.6 L889.2,1517.6 L885.8,1515.6 L882.3,1513.5 L878.9,1511.5 L875.4,1509.4 L872,1507.3 L868.5,1505.2 L865.1,1503.1 L861.6,1501 L858.2,1498.8 L854.7,1496.7 L851.2,1494.5 L847.8,1492.3 L844.3,1490.1 L840.9,1487.9 L837.4,1485.6 L834,1483.3 L830.5,1481.1 L827.1,1478.8 L823.6,1476.5 L820.2,1474.1 L816.7,1471.8 L813.3,1469.4 L809.8,1467 L806.4,1464.6 L802.9,1462.2 L799.5,1459.8 L796,1457.4 L792.5,1454.9 L789.1,1452.4 L785.6,1449.9 L782.2,1447.4 L778.7,1444.8 L775.3,1442.3 L771.8,1439.7 L768.4,1437.1 L764.9,1434.5 L761.5,1431.9 L758,1429.4 L754.6,1427.1 L751.1,1424.7 L747.7,1422.4 L744.2,1420 L740.7,1417.6 L737.3,1415.1 L733.8,1412.5 L730.4,1410 L726.9,1407.4 L723.5,1404.8 L720,1402.2 L716.6,1399.2 L713.1,1396.1 L709.7,1393 L706.2,1389.8 L702.8,1386.7 L699.3,1383.3 L695.9,1379.2 L692.4,1375Z" fill="#11146e" fill-opacity="0.6"/><path d="M692.4,1377.5 L695.9,1378.9 L699.3,1380.3 L702.8,1381.6 L706.2,1383 L709.7,1384.3 L713.1,1385.6 L716.6,1386.9 L720,1388.2 L723.5,1389.5 L726.9,1390.8 L730.4,1392.1 L733.8,1393.3 L737.3,1394.6 L740.7,1395.8 L744.2,1397 L747.7,1398.3 L751.1,1399.5 L754.6,1400.7 L758,1401.8 L761.5,1403 L764.9,1404.2 L768.4,1405.3 L771.8,1406.5 L775.3,1407.6 L778.7,1408.7 L782.2,1409.8 L785.6,1410.9 L789.1,1412 L792.5,1413.1 L796,1414.2 L799.5,1415.2 L802.9,1416.3 L806.4,1417.3 L809.8,1418.3 L813.3,1419.4 L816.7,1420.4 L820.2,1421.4 L823.6,1422.4 L827.1,1423.4 L830.5,1424.3 L834,1425.3 L837.4,1426.3 L840.9,1427.2 L844.3,1428.1 L847.8,1429.1 L851.2,1430 L854.7,1430.9 L858.2,1431.8 L861.6,1432.7 L865.1,1433.6 L868.5,1434.5 L872,1435.3 L875.4,1436.2 L878.9,1437 L882.3,1437.9 L885.8,1438.7 L889.2,1439.5 L892.7,1440.4 L896.1,1441.2 L899.6,1442 L903,1442.8 L906.5,1443.5 L910,1444.3 L913.4,1445.1 L916.9,1445.8 L920.3,1446.6 L923.8,1447.3 L927.2,1448.1 L930.7,1448.8 L934.1,1449.5 L937.6,1450.2 L941,1450.9 L944.5,1451.6 L947.9,1452.3 L951.4,1453 L954.8,1453.7 L958.3,1454.3 L961.8,1455 L965.2,1455.7 L968.7,1456.3 L972.1,1456.9 L975.6,1457.6 L979,1458.2 L982.5,1458.8 L985.9,1459.4 L989.4,1460 L992.8,1460.6 L996.3,1461.2 L999.7,1461.8 L1003.2,1462.4 L1006.6,1462.9 L1010.1,1463.5 L1013.6,1464 L1017,1464.6 L1020.5,1465.1 L1023.9,1465.7 L1027.4,1466.2 L1030.8,1466.7 L1034.3,1467.2 L1037.7,1467.7 L1041.2,1468.2 L1044.6,1468.7 L1048.1,1469.2 L1051.5,1469.7 L1055,1470.2 L1058.4,1470.6 L1061.9,1471.1 L1065.4,1471.6 L1068.8,1472 L1072.3,1472.5 L1075.7,1472.9 L1079.2,1473.3 L1082.6,1473.8 L1086.1,1474.2 L1089.5,1474.6 L1093,1475 L1096.4,1475.4 L1099.9,1475.8 L1103.3,1476.2 L1106.8,1476.6 L1110.2,1477 L1113.7,1477.3 L1117.2,1477.7 L1120.6,1478.1 L1124.1,1478.4 L1127.5,1478.8 L1131,1479.1 L1134.4,1479.5 L1137.9,1479.8 L1141.3,1480.1 L1144.8,1480.4 L1148.2,1480.8 L1151.7,1481.1 L1155.1,1481.4 L1158.6,1481.7 L1162,1482 L1165.5,1482.3 L1168.9,1482.6 L1172.4,1482.8 L1175.9,1483.1 L1179.3,1483.4 L1182.8,1483.7 L1186.2,1483.9 L1189.7,1484.2 L1193.1,1484.4 L1196.6,1484.7 L1200,1484.9 L1203.5,1485.2 L1206.9,1485.4 L1210.4,1485.6 L1213.8,1485.9 L1217.3,1486.1 L1220.7,1486.3 L1224.2,1486.5 L1227.7,1486.7 L1231.1,1486.9 L1234.6,1487.1 L1238,1487.3 L1241.5,1487.5 L1244.9,1487.7 L1248.4,1487.8 L1251.8,1488 L1255.3,1488.2 L1258.7,1488.3 L1262.2,1488.5 L1265.6,1488.6 L1269.1,1488.8 L1272.5,1488.9 L1276,1489.1 L1276,1535.1 L1272.5,1534.9 L1269.1,1534.6 L1265.6,1534.3 L1262.2,1534 L1258.7,1533.7 L1255.3,1533.3 L1251.8,1533 L1248.4,1532.7 L1244.9,1532.4 L1241.5,1532 L1238,1531.7 L1234.6,1531.4 L1231.1,1531 L1227.7,1530.7 L1224.2,1530.3 L1220.7,1529.9 L1217.3,1529.6 L1213.8,1529.2 L1210.4,1528.8 L1206.9,1528.4 L1203.5,1528 L1200,1527.6 L1196.6,1527.2 L1193.1,1526.8 L1189.7,1526.4 L1186.2,1526 L1182.8,1525.6 L1179.3,1525.1 L1175.9,1524.7 L1172.4,1524.2 L1168.9,1523.8 L1165.5,1523.3 L1162,1522.9 L1158.6,1522.4 L1155.1,1521.9 L1151.7,1521.4 L1148.2,1521 L1144.8,1520.5 L1141.3,1520 L1137.9,1519.5 L1134.4,1518.9 L1131,1518.4 L1127.5,1517.9 L1124.1,1517.4 L1120.6,1516.8 L1117.2,1516.3 L1113.7,1515.7 L1110.2,1515.2 L1106.8,1514.6 L1103.3,1514 L1099.9,1513.4 L1096.4,1512.9 L1093,1512.3 L1089.5,1511.7 L1086.1,1511.1 L1082.6,1510.4 L1079.2,1509.8 L1075.7,1509.2 L1072.3,1508.5 L1068.8,1507.9 L1065.4,1507.2 L1061.9,1506.6 L1058.4,1505.9 L1055,1505.2 L1051.5,1504.5 L1048.1,1503.9 L1044.6,1503.2 L1041.2,1502.4 L1037.7,1501.7 L1034.3,1501 L1030.8,1500.3 L1027.4,1499.5 L1023.9,1498.8 L1020.5,1498 L1017,1497.2 L1013.6,1496.5 L1010.1,1495.7 L1006.6,1494.9 L1003.2,1494.1 L999.7,1493.3 L996.3,1492.5 L992.8,1491.6 L989.4,1490.8 L985.9,1489.9 L982.5,1489.1 L979,1488.2 L975.6,1487.3 L972.1,1486.4 L968.7,1485.6 L965.2,1484.7 L961.8,1483.7 L958.3,1482.8 L954.8,1481.9 L951.4,1480.9 L947.9,1480 L944.5,1479 L941,1478 L937.6,1477.1 L934.1,1476.1 L930.7,1475.1 L927.2,1474 L923.8,1473 L920.3,1472 L916.9,1470.9 L913.4,1469.9 L910,1468.8 L906.5,1467.7 L903,1466.6 L899.6,1465.5 L896.1,1464.4 L892.7,1463.3 L889.2,1462.1 L885.8,1461 L882.3,1459.8 L878.9,1458.7 L875.4,1457.5 L872,1456.3 L868.5,1455.1 L865.1,1453.9 L861.6,1452.6 L858.2,1451.4 L854.7,1450.1 L851.2,1448.9 L847.8,1447.6 L844.3,1446.3 L840.9,1445 L837.4,1443.7 L834,1442.3 L830.5,1441 L827.1,1439.6 L823.6,1438.2 L820.2,1436.9 L816.7,1435.4 L813.3,1434 L809.8,1432.6 L806.4,1431.2 L802.9,1429.7 L799.5,1428.2 L796,1426.8 L792.5,1425.3 L789.1,1423.7 L785.6,1422.2 L782.2,1420.7 L778.7,1419.1 L775.3,1417.5 L771.8,1416 L768.4,1414.4 L764.9,1412.7 L761.5,1411.1 L758,1409.5 L754.6,1407.8 L751.1,1406.1 L747.7,1404.4 L744.2,1402.7 L740.7,1401 L737.3,1399.2 L733.8,1397.5 L730.4,1395.7 L726.9,1393.9 L723.5,1392.1 L720,1390.3 L716.6,1388.4 L713.1,1386.5 L709.7,1384.7 L706.2,1382.8 L702.8,1380.9 L699.3,1378.9 L695.9,1377 L692.4,1375Z" fill="#e6114b" fill-opacity="0.6"/><path d="M692.4,1375 L695.9,1376.4 L699.3,1377.8 L702.8,1379.1 L706.2,1380.5 L709.7,1381.8 L713.1,1383.1 L716.6,1384.4 L720,1385.7 L723.5,1387 L726.9,1388.3 L730.4,1389.6 L733.8,1390.8 L737.3,1392.1 L740.7,1393.3 L744.2,1394.5 L747.7,1395.8 L751.1,1397 L754.6,1398.2 L758,1399.3 L761.5,1400.5 L764.9,1401.7 L768.4,1402.8 L771.8,1404 L775.3,1405.1 L778.7,1406.2 L782.2,1407.3 L785.6,1408.4 L789.1,1409.5 L792.5,1410.6 L796,1411.7 L799.5,1412.7 L802.9,1413.8 L806.4,1414.8 L809.8,1415.8 L813.3,1416.9 L816.7,1417.9 L820.2,1418.9 L823.6,1419.9 L827.1,1420.9 L830.5,1421.8 L834,1422.8 L837.4,1423.8 L840.9,1424.7 L844.3,1425.6 L847.8,1426.6 L851.2,1427.5 L854.7,1428.4 L858.2,1429.3 L861.6,1430.2 L865.1,1431.1 L868.5,1432 L872,1432.8 L875.4,1433.7 L878.9,1434.5 L882.3,1435.4 L885.8,1436.2 L889.2,1437 L892.7,1437.9 L896.1,1438.7 L899.6,1439.5 L903,1440.3 L906.5,1441 L910,1441.8 L913.4,1442.6 L916.9,1443.3 L920.3,1444.1 L923.8,1444.8 L927.2,1445.6 L930.7,1446.3 L934.1,1447 L937.6,1447.7 L941,1448.4 L944.5,1449.1 L947.9,1449.8 L951.4,1450.5 L954.8,1451.2 L958.3,1451.8 L961.8,1452.5 L965.2,1453.2 L968.7,1453.8 L972.1,1454.4 L975.6,1455.1 L979,1455.7 L982.5,1456.3 L985.9,1456.9 L989.4,1457.5 L992.8,1458.1 L996.3,1458.7 L999.7,1459.3 L1003.2,1459.9 L1006.6,1460.4 L1010.1,1461 L1013.6,1461.5 L1017,1462.1 L1020.5,1462.6 L1023.9,1463.2 L1027.4,1463.7 L1030.8,1464.2 L1034.3,1464.7 L1037.7,1465.2 L1041.2,1465.7 L1044.6,1466.2 L1048.1,1466.7 L1051.5,1467.2 L1055,1467.7 L1058.4,1468.1 L1061.9,1468.6 L1065.4,1469.1 L1068.8,1469.5 L1072.3,1470 L1075.7,1470.4 L1079.2,1470.8 L1082.6,1471.3 L1086.1,1471.7 L1089.5,1472.1 L1093,1472.5 L1096.4,1472.9 L1099.9,1473.3 L1103.3,1473.7 L1106.8,1474.1 L1110.2,1474.5 L1113.7,1474.8 L1117.2,1475.2 L1120.6,1475.6 L1124.1,1475.9 L1127.5,1476.3 L1131,1476.6 L1134.4,1477 L1137.9,1477.3 L1141.3,1477.6 L1144.8,1477.9 L1148.2,1478.3 L1151.7,1478.6 L1155.1,1478.9 L1158.6,1479.2 L1162,1479.5 L1165.5,1479.8 L1168.9,1480.1 L1172.4,1480.3 L1175.9,1480.6 L1179.3,1480.9 L1182.8,1481.2 L1186.2,1481.4 L1189.7,1481.7 L1193.1,1481.9 L1196.6,1482.2 L1200,1482.4 L1203.5,1482.7 L1206.9,1482.9 L1210.4,1483.1 L1213.8,1483.4 L1217.3,1483.6 L1220.7,1483.8 L1224.2,1484 L1227.7,1484.2 L1231.1,1484.4 L1234.6,1484.6 L1238,1484.8 L1241.5,1485 L1244.9,1485.2 L1248.4,1485.3 L1251.8,1485.5 L1255.3,1485.7 L1258.7,1485.8 L1262.2,1486 L1265.6,1486.1 L1269.1,1486.3 L1272.5,1486.4 L1276,1486.6 L1276,1489.1 L1272.5,1488.9 L1269.1,1488.8 L1265.6,1488.6 L1262.2,1488.5 L1258.7,1488.3 L1255.3,1488.2 L1251.8,1488 L1248.4,1487.8 L1244.9,1487.7 L1241.5,1487.5 L1238,1487.3 L1234.6,1487.1 L1231.1,1486.9 L1227.7,1486.7 L1224.2,1486.5 L1220.7,1486.3 L1217.3,1486.1 L1213.8,1485.9 L1210.4,1485.6 L1206.9,1485.4 L1203.5,1485.2 L1200,1484.9 L1196.6,1484.7 L1193.1,1484.4 L1189.7,1484.2 L1186.2,1483.9 L1182.8,1483.7 L1179.3,1483.4 L1175.9,1483.1 L1172.4,1482.8 L1168.9,1482.6 L1165.5,1482.3 L1162,1482 L1158.6,1481.7 L1155.1,1481.4 L1151.7,1481.1 L1148.2,1480.8 L1144.8,1480.4 L1141.3,1480.1 L1137.9,1479.8 L1134.4,1479.5 L1131,1479.1 L1127.5,1478.8 L1124.1,1478.4 L1120.6,1478.1 L1117.2,1477.7 L1113.7,1477.3 L1110.2,1477 L1106.8,1476.6 L1103.3,1476.2 L1099.9,1475.8 L1096.4,1475.4 L1093,1475 L1089.5,1474.6 L1086.1,1474.2 L1082.6,1473.8 L1079.2,1473.3 L1075.7,1472.9 L1072.3,1472.5 L1068.8,1472 L1065.4,1471.6 L1061.9,1471.1 L1058.4,1470.6 L1055,1470.2 L1051.5,1469.7 L1048.1,1469.2 L1044.6,1468.7 L1041.2,1468.2 L1037.7,1467.7 L1034.3,1467.2 L1030.8,1466.7 L1027.4,1466.2 L1023.9,1465.7 L1020.5,1465.1 L1017,1464.6 L1013.6,1464 L1010.1,1463.5 L1006.6,1462.9 L1003.2,1462.4 L999.7,1461.8 L996.3,1461.2 L992.8,1460.6 L989.4,1460 L985.9,1459.4 L982.5,1458.8 L979,1458.2 L975.6,1457.6 L972.1,1456.9 L968.7,1456.3 L965.2,1455.7 L961.8,1455 L958.3,1454.3 L954.8,1453.7 L951.4,1453 L947.9,1452.3 L944.5,1451.6 L941,1450.9 L937.6,1450.2 L934.1,1449.5 L930.7,1448.8 L927.2,1448.1 L923.8,1447.3 L920.3,1446.6 L916.9,1445.8 L913.4,1445.1 L910,1444.3 L906.5,1443.5 L903,1442.8 L899.6,1442 L896.1,1441.2 L892.7,1440.4 L889.2,1439.5 L885.8,1438.7 L882.3,1437.9 L878.9,1437 L875.4,1436.2 L872,1435.3 L868.5,1434.5 L865.1,1433.6 L861.6,1432.7 L858.2,1431.8 L854.7,1430.9 L851.2,1430 L847.8,1429.1 L844.3,1428.1 L840.9,1427.2 L837.4,1426.3 L834,1425.3 L830.5,1424.3 L827.1,1423.4 L823.6,1422.4 L820.2,1421.4 L816.7,1420.4 L813.3,1419.4 L809.8,1418.3 L806.4,1417.3 L802.9,1416.3 L799.5,1415.2 L796,1414.2 L792.5,1413.1 L789.1,1412 L785.6,1410.9 L782.2,1409.8 L778.7,1408.7 L775.3,1407.6 L771.8,1406.5 L768.4,1405.3 L764.9,1404.2 L761.5,1403 L758,1401.8 L754.6,1400.7 L751.1,1399.5 L747.7,1398.3 L744.2,1397 L740.7,1395.8 L737.3,1394.6 L733.8,1393.3 L730.4,1392.1 L726.9,1390.8 L723.5,1389.5 L720,1388.2 L716.6,1386.9 L713.1,1385.6 L709.7,1384.3 L706.2,1383 L702.8,1381.6 L699.3,1380.3 L695.9,1378.9 L692.4,1377.5Z" fill="#d62728" fill-opacity="0.6"/><path d="M692.4,1374.5 L695.9,1372.5 L699.3,1370.6 L702.8,1368.7 L706.2,1366.7 L709.7,1364.8 L713.1,1362.9 L716.6,1361.1 L720,1359.2 L723.5,1357.3 L726.9,1355.5 L730.4,1353.7 L733.8,1351.9 L737.3,1350.1 L740.7,1348.3 L744.2,1346.6 L747.7,1344.8 L751.1,1343.1 L754.6,1341.4 L758,1339.7 L761.5,1338.1 L764.9,1336.4 L768.4,1334.8 L771.8,1333.2 L775.3,1331.6 L778.7,1330 L782.2,1328.5 L785.6,1326.9 L789.1,1325.4 L792.5,1323.8 L796,1322.3 L799.5,1320.8 L802.9,1319.3 L806.4,1317.8 L809.8,1316.2 L813.3,1314.7 L816.7,1313.2 L820.2,1311.7 L823.6,1310.2 L827.1,1308.7 L830.5,1307.2 L834,1305.6 L837.4,1304.1 L840.9,1302.6 L844.3,1301.1 L847.8,1299.6 L851.2,1298.1 L854.7,1296.6 L858.2,1295.1 L861.6,1293.6 L865.1,1292.1 L868.5,1290.6 L872,1289.1 L875.4,1287.6 L878.9,1286.2 L882.3,1284.7 L885.8,1283.3 L889.2,1281.8 L892.7,1280.4 L896.1,1278.9 L899.6,1277.5 L903,1276 L906.5,1274.6 L910,1273.2 L913.4,1271.7 L916.9,1270.3 L920.3,1268.9 L923.8,1267.5 L927.2,1266.1 L930.7,1264.6 L934.1,1263.2 L937.6,1261.8 L941,1260.4 L944.5,1259 L947.9,1257.6 L951.4,1256.2 L954.8,1254.8 L958.3,1253.5 L961.8,1252.1 L965.2,1250.7 L968.7,1249.3 L972.1,1247.9 L975.6,1246.6 L979,1245.2 L982.5,1243.9 L985.9,1242.5 L989.4,1241.1 L992.8,1239.8 L996.3,1238.4 L999.7,1237.1 L1003.2,1235.7 L1006.6,1234.4 L1010.1,1233.1 L1013.6,1231.7 L1017,1230.4 L1020.5,1229 L1023.9,1227.7 L1027.4,1226.4 L1030.8,1225 L1034.3,1223.7 L1037.7,1222.4 L1041.2,1221 L1044.6,1219.7 L1048.1,1218.4 L1051.5,1217.1 L1055,1215.7 L1058.4,1214.4 L1061.9,1213.1 L1065.4,1211.8 L1068.8,1210.5 L1072.3,1209.2 L1075.7,1207.9 L1079.2,1206.6 L1082.6,1205.3 L1086.1,1204 L1089.5,1202.7 L1093,1201.4 L1096.4,1200.1 L1099.9,1198.9 L1103.3,1197.6 L1106.8,1196.3 L1110.2,1195.1 L1113.7,1193.8 L1117.2,1192.5 L1120.6,1191.3 L1124.1,1190 L1127.5,1188.8 L1131,1187.5 L1134.4,1186.3 L1137.9,1185.1 L1141.3,1183.9 L1144.8,1182.6 L1148.2,1181.4 L1151.7,1180.2 L1155.1,1179 L1158.6,1177.8 L1162,1176.6 L1165.5,1175.4 L1168.9,1174.2 L1172.4,1173 L1175.9,1171.8 L1179.3,1170.7 L1182.8,1169.5 L1186.2,1168.3 L1189.7,1167.2 L1193.1,1166 L1196.6,1164.9 L1200,1163.7 L1203.5,1162.6 L1206.9,1161.4 L1210.4,1160.3 L1213.8,1159.2 L1217.3,1158 L1220.7,1156.9 L1224.2,1155.8 L1227.7,1154.7 L1231.1,1153.6 L1234.6,1152.5 L1238,1151.4 L1241.5,1150.3 L1244.9,1149.2 L1248.4,1148.1 L1251.8,1147 L1255.3,1145.9 L1258.7,1144.8 L1262.2,1143.8 L1265.6,1142.7 L1269.1,1141.6 L1272.5,1140.6 L1276,1139.5 L1276,1211.5 L1272.5,1212.4 L1269.1,1213.3 L1265.6,1214.2 L1262.2,1215.1 L1258.7,1216.1 L1255.3,1217 L1251.8,1217.9 L1248.4,1218.8 L1244.9,1219.7 L1241.5,1220.6 L1238,1221.5 L1234.6,1222.4 L1231.1,1223.3 L1227.7,1224.2 L1224.2,1225.1 L1220.7,1226 L1217.3,1227 L1213.8,1227.9 L1210.4,1228.8 L1206.9,1229.7 L1203.5,1230.6 L1200,1231.5 L1196.6,1232.4 L1193.1,1233.3 L1189.7,1234.2 L1186.2,1235.1 L1182.8,1236 L1179.3,1236.9 L1175.9,1237.7 L1172.4,1238.6 L1168.9,1239.5 L1165.5,1240.4 L1162,1241.3 L1158.6,1242.2 L1155.1,1243 L1151.7,1243.9 L1148.2,1244.8 L1144.8,1245.7 L1141.3,1246.5 L1137.9,1247.4 L1134.4,1248.3 L1131,1249.2 L1127.5,1250 L1124.1,1250.9 L1120.6,1251.8 L1117.2,1252.6 L1113.7,1253.5 L1110.2,1254.4 L1106.8,1255.2 L1103.3,1256.1 L1099.9,1257 L1096.4,1257.9 L1093,1258.7 L1089.5,1259.6 L1086.1,1260.5 L1082.6,1261.3 L1079.2,1262.2 L1075.7,1263.1 L1072.3,1264 L1068.8,1264.9 L1065.4,1265.7 L1061.9,1266.6 L1058.4,1267.5 L1055,1268.4 L1051.5,1269.3 L1048.1,1270.2 L1044.6,1271.1 L1041.2,1272 L1037.7,1272.9 L1034.3,1273.8 L1030.8,1274.7 L1027.4,1275.6 L1023.9,1276.5 L1020.5,1277.4 L1017,1278.3 L1013.6,1279.2 L1010.1,1280.2 L1006.6,1281.1 L1003.2,1282 L999.7,1283 L996.3,1283.9 L992.8,1284.9 L989.4,1285.8 L985.9,1286.8 L982.5,1287.7 L979,1288.7 L975.6,1289.6 L972.1,1290.6 L968.7,1291.5 L965.2,1292.5 L961.8,1293.5 L958.3,1294.5 L954.8,1295.4 L951.4,1296.4 L947.9,1297.4 L944.5,1298.4 L941,1299.4 L937.6,1300.4 L934.1,1301.3 L930.7,1302.3 L927.2,1303.3 L923.8,1304.3 L920.3,1305.3 L916.9,1306.4 L913.4,1307.4 L910,1308.4 L906.5,1309.4 L903,1310.4 L899.6,1311.4 L896.1,1312.5 L892.7,1313.5 L889.2,1314.5 L885.8,1315.6 L882.3,1316.6 L878.9,1317.6 L875.4,1318.7 L872,1319.8 L868.5,1320.8 L865.1,1321.9 L861.6,1323 L858.2,1324.1 L854.7,1325.2 L851.2,1326.3 L847.8,1327.4 L844.3,1328.5 L840.9,1329.6 L837.4,1330.7 L834,1331.8 L830.5,1332.8 L827.1,1333.9 L823.6,1335 L820.2,1336 L816.7,1337.1 L813.3,1338.2 L809.8,1339.3 L806.4,1340.4 L802.9,1341.5 L799.5,1342.5 L796,1343.6 L792.5,1344.7 L789.1,1345.7 L785.6,1346.8 L782.2,1347.8 L778.7,1348.9 L775.3,1349.9 L771.8,1350.9 L768.4,1351.9 L764.9,1352.9 L761.5,1353.8 L758,1354.7 L754.6,1355.7 L751.1,1356.5 L747.7,1357.4 L744.2,1358.1 L740.7,1358.9 L737.3,1359.7 L733.8,1360.4 L730.4,1361.2 L726.9,1362.1 L723.5,1363 L720,1364 L716.6,1365.1 L713.1,1366.2 L709.7,1367.5 L706.2,1368.8 L702.8,1370.1 L699.3,1371.5 L695.9,1373 L692.4,1374.5Z" fill="#258a26" fill-opacity="0.6"/><g fill="#000" fill-opacity="0.28"><circle cx="900.1" cy="1433" r="5"/><circle cx="906.1" cy="1436.4" r="5"/><circle cx="912.2" cy="1439.6" r="5"/><circle cx="918.3" cy="1442.7" r="5"/><circle cx="924.3" cy="1445.7" r="5"/><circle cx="930.4" cy="1448.6" r="5"/><circle cx="936.5" cy="1451.3" r="5"/><circle cx="942.6" cy="1454" r="5"/><circle cx="948.6" cy="1456.8" r="5"/><circle cx="954.7" cy="1459.5" r="5"/><circle cx="960.8" cy="1462.3" r="5"/><circle cx="966.8" cy="1464.9" r="5"/><circle cx="972.9" cy="1467.5" r="5"/><circle cx="979" cy="1470.2" r="5"/><circle cx="985.1" cy="1473.2" r="5"/><circle cx="991.1" cy="1476.7" r="5"/><circle cx="997.2" cy="1481" r="5"/><circle cx="1003.3" cy="1485.2" r="5"/><circle cx="1009.3" cy="1489.2" r="5"/><circle cx="1015.4" cy="1492.9" r="5"/><circle cx="1021.5" cy="1495" r="5"/><circle cx="1027.6" cy="1496.3" r="5"/><circle cx="1033.6" cy="1497.1" r="5"/><circle cx="1039.7" cy="1496.9" r="5"/><circle cx="1045.8" cy="1495.3" r="5"/><circle cx="1051.8" cy="1493.1" r="5"/><circle cx="1057.9" cy="1490.3" r="5"/><circle cx="1064" cy="1486.8" r="5"/><circle cx="1070.1" cy="1483.5" r="5"/><circle cx="1076.1" cy="1480.2" r="5"/><circle cx="1082.2" cy="1477.6" r="5"/><circle cx="1088.3" cy="1476.9" r="5"/><circle cx="1094.4" cy="1476.7" r="5"/><circle cx="1100.4" cy="1476.6" r="5"/><circle cx="1106.5" cy="1478.9" r="5"/><circle cx="1112.6" cy="1483.2" r="5"/><circle cx="1118.6" cy="1486.9" r="5"/><circle cx="1124.7" cy="1488.2" r="5"/><circle cx="1130.8" cy="1489.1" r="5"/><circle cx="1136.9" cy="1489.7" r="5"/><circle cx="1142.9" cy="1489.9" r="5"/><circle cx="1149" cy="1489.2" r="5"/><circle cx="1155.1" cy="1488" r="5"/><circle cx="1161.1" cy="1487.2" r="5"/><circle cx="1167.2" cy="1487.1" r="5"/><circle cx="1173.3" cy="1487.3" r="5"/><circle cx="1179.4" cy="1487.6" r="5"/><circle cx="1185.4" cy="1487.9" r="5"/><circle cx="1191.5" cy="1489" r="5"/><circle cx="1197.6" cy="1490.6" r="5"/><circle cx="1203.6" cy="1492.4" r="5"/><circle cx="1209.7" cy="1494" r="5"/><circle cx="1215.8" cy="1495.7" r="5"/><circle cx="1221.9" cy="1497.6" r="5"/><circle cx="1227.9" cy="1499.8" r="5"/><circle cx="1234" cy="1502.5" r="5"/></g><path d="M180,1375H692.4" stroke="#a0203f" stroke-width="2.6"/><path d="M180,1375 L692.4,1375 L695.9,1377.3 L699.3,1379.7 L702.8,1382 L706.2,1384.2 L709.7,1386.5 L713.1,1388.7 L716.6,1391 L720,1393.2 L723.5,1395.3 L726.9,1397.5 L730.4,1399.6 L733.8,1401.7 L737.3,1403.8 L740.7,1405.9 L744.2,1408 L747.7,1410 L751.1,1412 L754.6,1414 L758,1416 L761.5,1418 L764.9,1419.9 L768.4,1421.8 L771.8,1423.7 L775.3,1425.6 L778.7,1427.5 L782.2,1429.4 L785.6,1431.2 L789.1,1433 L792.5,1434.8 L796,1436.6 L799.5,1438.4 L802.9,1440.1 L806.4,1441.9 L809.8,1443.6 L813.3,1445.3 L816.7,1447 L820.2,1448.7 L823.6,1450.3 L827.1,1452 L830.5,1453.6 L834,1455.2 L837.4,1456.8 L840.9,1458.4 L844.3,1460 L847.8,1461.5 L851.2,1463.1 L854.7,1464.6 L858.2,1466.1 L861.6,1467.6 L865.1,1469.1 L868.5,1470.6 L872,1472 L875.4,1473.5 L878.9,1474.9 L882.3,1476.3 L885.8,1477.7 L889.2,1479.1 L892.7,1480.5 L896.1,1481.8 L899.6,1483.2 L903,1484.5 L906.5,1485.8 L910,1487.2 L913.4,1488.5 L916.9,1489.8 L920.3,1491 L923.8,1492.3 L927.2,1493.6 L930.7,1494.8 L934.1,1496 L937.6,1497.2 L941,1498.5 L944.5,1499.6 L947.9,1500.8 L951.4,1502 L954.8,1503.2 L958.3,1504.3 L961.8,1505.5 L965.2,1506.6 L968.7,1507.7 L972.1,1508.8 L975.6,1509.9 L979,1511 L982.5,1512.1 L985.9,1513.2 L989.4,1514.2 L992.8,1515.3 L996.3,1516.3 L999.7,1517.4 L1003.2,1518.4 L1006.6,1519.4 L1010.1,1520.4 L1013.6,1521.4 L1017,1522.4 L1020.5,1523.3 L1023.9,1524.3 L1027.4,1525.3 L1030.8,1526.2 L1034.3,1527.2 L1037.7,1528.1 L1041.2,1529 L1044.6,1529.9 L1048.1,1530.8 L1051.5,1531.7 L1055,1532.6 L1058.4,1533.5 L1061.9,1534.4 L1065.4,1535.2 L1068.8,1536.1 L1072.3,1536.9 L1075.7,1537.8 L1079.2,1538.6 L1082.6,1539.4 L1086.1,1540.2 L1089.5,1541 L1093,1541.8 L1096.4,1542.6 L1099.9,1543.4 L1103.3,1544.2 L1106.8,1545 L1110.2,1545.7 L1113.7,1546.5 L1117.2,1547.3 L1120.6,1548 L1124.1,1548.7 L1127.5,1549.5 L1131,1550.2 L1134.4,1550.9 L1137.9,1551.6 L1141.3,1552.3 L1144.8,1553 L1148.2,1553.7 L1151.7,1554.4 L1155.1,1555.1 L1158.6,1555.7 L1162,1556.4 L1165.5,1557.1 L1168.9,1557.7 L1172.4,1558.4 L1175.9,1559 L1179.3,1559.6 L1182.8,1560.3 L1186.2,1560.9 L1189.7,1561.5 L1193.1,1562.1 L1196.6,1562.7 L1200,1563.3 L1203.5,1563.9 L1206.9,1564.5 L1210.4,1565.1 L1213.8,1565.7 L1217.3,1566.2 L1220.7,1566.8 L1224.2,1567.4 L1227.7,1567.9 L1231.1,1568.5 L1234.6,1569 L1238,1569.6 L1241.5,1570.1 L1244.9,1570.6 L1248.4,1571.2 L1251.8,1571.7 L1255.3,1572.2 L1258.7,1572.7 L1262.2,1573.2 L1265.6,1573.7 L1269.1,1574.2 L1272.5,1574.7 L1276,1575.2" stroke="#2d4e9c" stroke-width="4.6" fill="none" stroke-dasharray="17.7 17.7" stroke-dashoffset="0" /><path d="M692.4,1375 L695.9,1373.4 L699.3,1371.9 L702.8,1370.4 L706.2,1368.8 L709.7,1367.3 L713.1,1365.8 L716.6,1364.2 L720,1362.7 L723.5,1361.2 L726.9,1359.7 L730.4,1358.2 L733.8,1356.7 L737.3,1355.2 L740.7,1353.7 L744.2,1352.3 L747.7,1350.8 L751.1,1349.3 L754.6,1347.8 L758,1346.4 L761.5,1344.9 L764.9,1343.5 L768.4,1342 L771.8,1340.6 L775.3,1339.1 L778.7,1337.7 L782.2,1336.3 L785.6,1334.8 L789.1,1333.4 L792.5,1332 L796,1330.6 L799.5,1329.2 L802.9,1327.8 L806.4,1326.4 L809.8,1325 L813.3,1323.6 L816.7,1322.3 L820.2,1320.9 L823.6,1319.5 L827.1,1318.1 L830.5,1316.8 L834,1315.4 L837.4,1314.1 L840.9,1312.7 L844.3,1311.4 L847.8,1310 L851.2,1308.7 L854.7,1307.4 L858.2,1306.1 L861.6,1304.7 L865.1,1303.4 L868.5,1302.1 L872,1300.8 L875.4,1299.5 L878.9,1298.2 L882.3,1296.9 L885.8,1295.7 L889.2,1294.4 L892.7,1293.1 L896.1,1291.8 L899.6,1290.6 L903,1289.3 L906.5,1288 L910,1286.8 L913.4,1285.5 L916.9,1284.3 L920.3,1283.1 L923.8,1281.8 L927.2,1280.6 L930.7,1279.4 L934.1,1278.2 L937.6,1276.9 L941,1275.7 L944.5,1274.5 L947.9,1273.3 L951.4,1272.1 L954.8,1270.9 L958.3,1269.7 L961.8,1268.6 L965.2,1267.4 L968.7,1266.2 L972.1,1265 L975.6,1263.9 L979,1262.7 L982.5,1261.6 L985.9,1260.4 L989.4,1259.3 L992.8,1258.1 L996.3,1257 L999.7,1255.9 L1003.2,1254.7 L1006.6,1253.6 L1010.1,1252.5 L1013.6,1251.4 L1017,1250.3 L1020.5,1249.2 L1023.9,1248.1 L1027.4,1247 L1030.8,1245.9 L1034.3,1244.8 L1037.7,1243.7 L1041.2,1242.6 L1044.6,1241.6 L1048.1,1240.5 L1051.5,1239.4 L1055,1238.4 L1058.4,1237.3 L1061.9,1236.3 L1065.4,1235.2 L1068.8,1234.2 L1072.3,1233.2 L1075.7,1232.1 L1079.2,1231.1 L1082.6,1230.1 L1086.1,1229.1 L1089.5,1228 L1093,1227 L1096.4,1226 L1099.9,1225 L1103.3,1224 L1106.8,1223 L1110.2,1222.1 L1113.7,1221.1 L1117.2,1220.1 L1120.6,1219.1 L1124.1,1218.1 L1127.5,1217.2 L1131,1216.2 L1134.4,1215.3 L1137.9,1214.3 L1141.3,1213.4 L1144.8,1212.4 L1148.2,1211.5 L1151.7,1210.6 L1155.1,1209.6 L1158.6,1208.7 L1162,1207.8 L1165.5,1206.9 L1168.9,1205.9 L1172.4,1205 L1175.9,1204.1 L1179.3,1203.2 L1182.8,1202.3 L1186.2,1201.5 L1189.7,1200.6 L1193.1,1199.7 L1196.6,1198.8 L1200,1197.9 L1203.5,1197.1 L1206.9,1196.2 L1210.4,1195.3 L1213.8,1194.5 L1217.3,1193.6 L1220.7,1192.8 L1224.2,1191.9 L1227.7,1191.1 L1231.1,1190.3 L1234.6,1189.4 L1238,1188.6 L1241.5,1187.8 L1244.9,1187 L1248.4,1186.2 L1251.8,1185.4 L1255.3,1184.6 L1258.7,1183.8 L1262.2,1183 L1265.6,1182.2 L1269.1,1181.4 L1272.5,1180.6 L1276,1179.8" stroke="#1a7f3c" stroke-width="4.6" fill="none" stroke-dasharray="17.7 17.7" stroke-dashoffset="512.4" /></g><path d="M253.4,1569v-10.5 M253.4,1105.6v10.5 M326.2,1569v-10.5 M326.2,1105.6v10.5 M399.1,1569v-10.5 M399.1,1105.6v10.5 M471.9,1569v-10.5 M471.9,1105.6v10.5 M544.8,1569v-10.5 M544.8,1105.6v10.5 M617.7,1569v-10.5 M617.7,1105.6v10.5 M690.5,1569v-10.5 M690.5,1105.6v10.5 M763.4,1569v-10.5 M763.4,1105.6v10.5 M836.2,1569v-10.5 M836.2,1105.6v10.5 M909.1,1569v-10.5 M909.1,1105.6v10.5 M982,1569v-10.5 M982,1105.6v10.5 M1054.8,1569v-10.5 M1054.8,1105.6v10.5 M1127.7,1569v-10.5 M1127.7,1105.6v10.5 M1200.5,1569v-10.5 M1200.5,1105.6v10.5 M179.9,1177h10.5 M1273.1,1177h-10.5 M179.9,1248.4h10.5 M1273.1,1248.4h-10.5 M179.9,1319.8h10.5 M1273.1,1319.8h-10.5 M179.9,1391.2h10.5 M1273.1,1391.2h-10.5 M179.9,1462.6h10.5 M1273.1,1462.6h-10.5 M179.9,1534h10.5 M1273.1,1534h-10.5" stroke="#2a2a2a" stroke-width="1.6" fill="none"/><rect x="179.9" y="1105.6" width="1093.2" height="463.4" fill="none" stroke="#141414" stroke-width="2.8"/><text x="168.6" y="1115.9" font-size="30" text-anchor="end">−46.7</text><text x="168.6" y="1187.3" font-size="30" text-anchor="end">−46.8</text><text x="168.6" y="1258.7" font-size="30" text-anchor="end">−46.9</text><text x="168.6" y="1330.1" font-size="30" text-anchor="end">−47.0</text><text x="168.6" y="1401.5" font-size="30" text-anchor="end">−47.1</text><text x="168.6" y="1472.9" font-size="30" text-anchor="end">−47.2</text><text x="168.6" y="1544.3" font-size="30" text-anchor="end">−47.3</text><text x="153.2" y="1643.3" font-size="28.7" transform="rotate(-45 153.2 1643.3)">2000</text><text x="226.1" y="1643.3" font-size="28.7" transform="rotate(-45 226.1 1643.3)">2001</text><text x="298.9" y="1643.3" font-size="28.7" transform="rotate(-45 298.9 1643.3)">2002</text><text x="371.8" y="1643.3" font-size="28.7" transform="rotate(-45 371.8 1643.3)">2003</text><text x="444.6" y="1643.3" font-size="28.7" transform="rotate(-45 444.6 1643.3)">2004</text><text x="517.5" y="1643.3" font-size="28.7" transform="rotate(-45 517.5 1643.3)">2005</text><text x="590.4" y="1643.3" font-size="28.7" transform="rotate(-45 590.4 1643.3)">2006</text><text x="663.2" y="1643.3" font-size="28.7" transform="rotate(-45 663.2 1643.3)">2007</text><text x="736.1" y="1643.3" font-size="28.7" transform="rotate(-45 736.1 1643.3)">2008</text><text x="808.9" y="1643.3" font-size="28.7" transform="rotate(-45 808.9 1643.3)">2009</text><text x="881.8" y="1643.3" font-size="28.7" transform="rotate(-45 881.8 1643.3)">2010</text><text x="954.7" y="1643.3" font-size="28.7" transform="rotate(-45 954.7 1643.3)">2011</text><text x="1027.5" y="1643.3" font-size="28.7" transform="rotate(-45 1027.5 1643.3)">2012</text><text x="1100.4" y="1643.3" font-size="28.7" transform="rotate(-45 1100.4 1643.3)">2013</text><text x="1173.2" y="1643.3" font-size="28.7" transform="rotate(-45 1173.2 1643.3)">2014</text><text x="1246.1" y="1643.3" font-size="28.7" transform="rotate(-45 1246.1 1643.3)">2015</text><text x="-0.6" y="23.1" font-size="42" font-weight="bold">a</text><text x="-1.2" y="568.9" font-size="42" font-weight="bold">b</text><text x="-0.6" y="1105.6" font-size="42" font-weight="bold">c</text><text transform="translate(55.2,251) rotate(-90)" font-size="28.6" text-anchor="middle">CH<tspan font-size="21" dy="7.5">4</tspan><tspan dy="-7.5"> (p.p.b.)</tspan></text><text transform="translate(28.2,785.3) rotate(-90)" font-size="29.6" text-anchor="middle"><tspan font-family="Liberation Serif" font-style="italic">δ</tspan><tspan font-size="21" dy="-12">13</tspan><tspan dy="12">C- CH</tspan><tspan font-size="21" dy="7.5">4</tspan><tspan dy="-7.5"> in ‰</tspan></text><text transform="translate(63.6,788.5) rotate(-90)" font-size="29.4" text-anchor="middle">(Schwietzke [2016])</text><text transform="translate(28.2,1317.2) rotate(-90)" font-size="29.6" text-anchor="middle"><tspan font-family="Liberation Serif" font-style="italic">δ</tspan><tspan font-size="21" dy="-12">13</tspan><tspan dy="12">C- CH</tspan><tspan font-size="21" dy="7.5">4</tspan><tspan dy="-7.5"> in ‰</tspan></text><text transform="translate(63.6,1320.5) rotate(-90)" font-size="29.4" text-anchor="middle">(Previous literature)</text></svg></body></html>
